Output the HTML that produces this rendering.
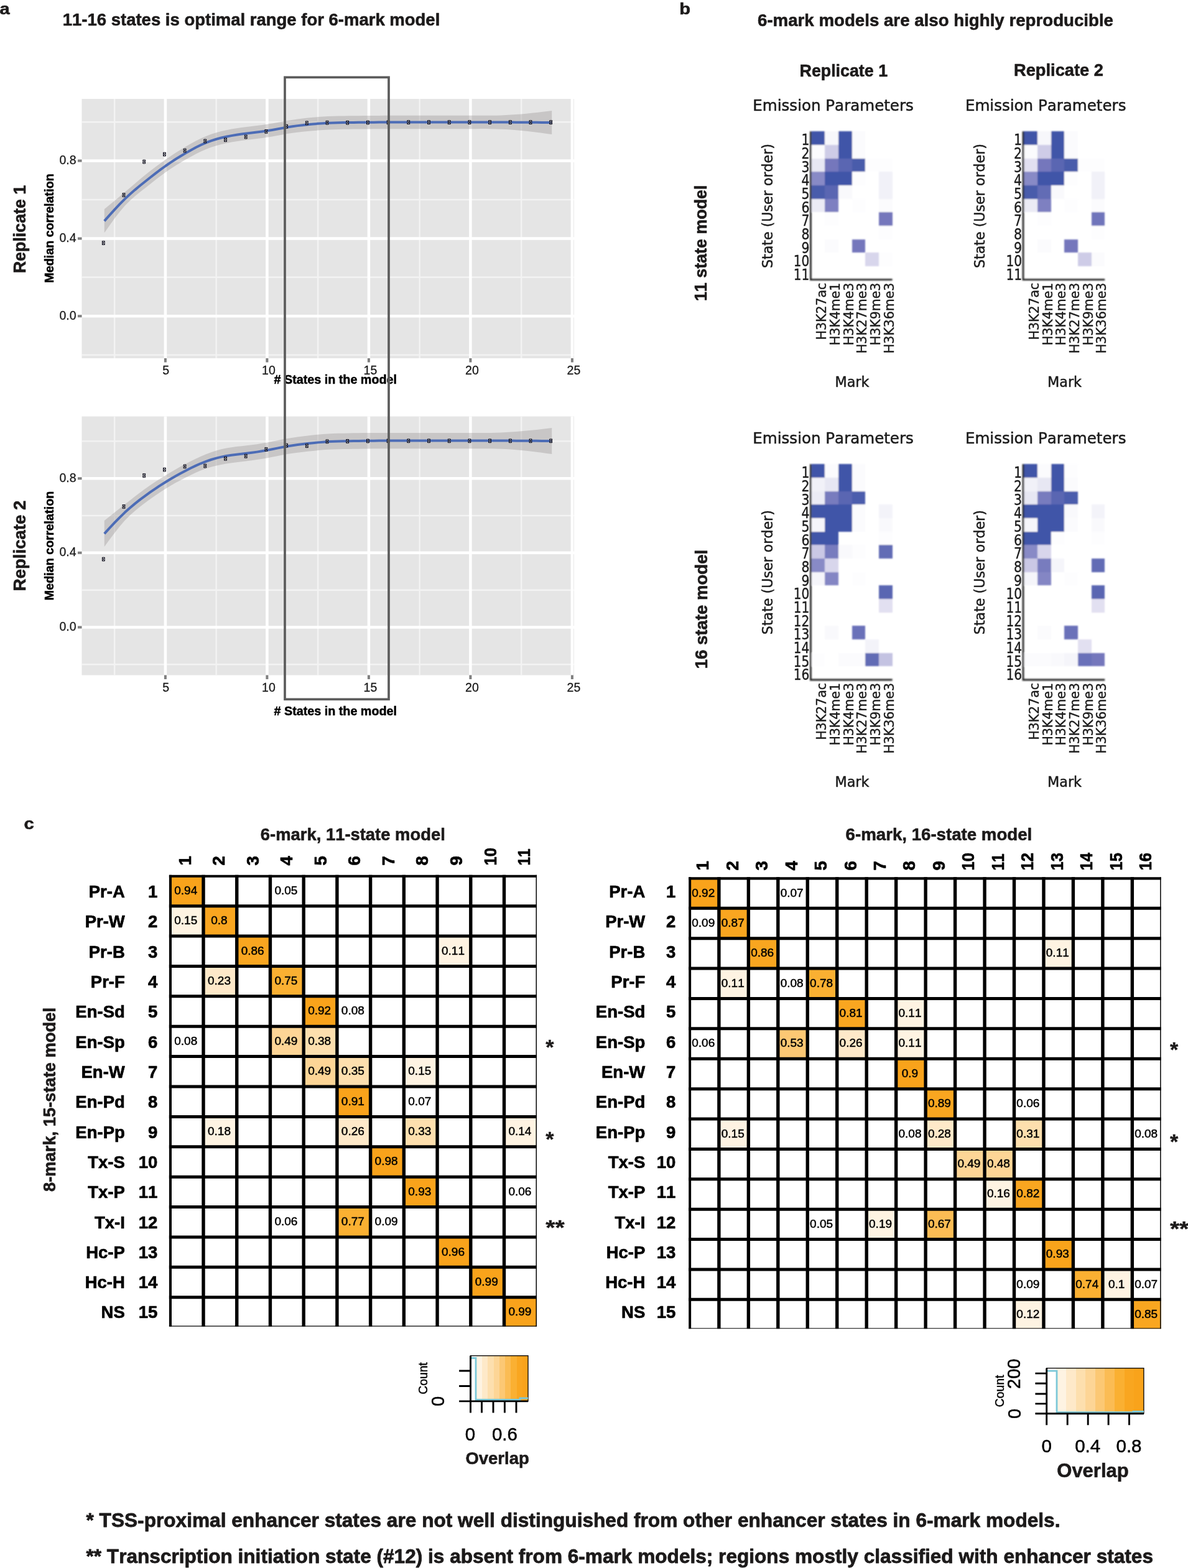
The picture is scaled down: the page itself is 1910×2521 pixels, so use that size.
<!DOCTYPE html>
<html lang="en"><head><meta charset="utf-8"><title>6-mark ChromHMM models</title>
<style>html,body{margin:0;padding:0;background:#fff}body{width:1910px;height:2521px;overflow:hidden}svg{display:block}
text{font-family:"Liberation Sans", Arial, Helvetica, sans-serif;font-kerning:none}.b{font-weight:700}.r{font-weight:400}.d{font-family:"DejaVu Sans", "Liberation Sans", sans-serif;font-weight:400}
</style></head><body>
<svg width="1910" height="2521" viewBox="0 0 1910 2521">
<defs><linearGradient id="og" x1="0" x2="1" y1="0" y2="0"><stop offset="0" stop-color="#ffffff"/><stop offset="0.08" stop-color="#ffffff"/><stop offset="1" stop-color="#f9a31b"/></linearGradient>
<filter id="bl" x="-5%" y="-5%" width="110%" height="110%"><feGaussianBlur stdDeviation="0.8"/></filter></defs>
<rect width="1910" height="2521" fill="#fff"/>
<text class="b" x="-0.5" y="23.3" font-size="26.5" text-anchor="start" fill="#1c1a1a" textLength="16.21" lengthAdjust="spacingAndGlyphs" stroke="#1c1a1a" stroke-width="0.6" stroke-linejoin="round">a</text>
<text class="b" x="1092.3" y="23" font-size="26.5" text-anchor="start" fill="#1c1a1a" textLength="17.81" lengthAdjust="spacingAndGlyphs" stroke="#1c1a1a" stroke-width="0.6" stroke-linejoin="round">b</text>
<text class="b" x="38.5" y="1332.7" font-size="26.5" text-anchor="start" fill="#1c1a1a" textLength="16.21" lengthAdjust="spacingAndGlyphs" stroke="#1c1a1a" stroke-width="0.6" stroke-linejoin="round">c</text>
<text class="b" x="100.8" y="41.2" font-size="27.5" text-anchor="start" fill="#1c1a1a" textLength="606.5" lengthAdjust="spacingAndGlyphs" stroke="#1c1a1a" stroke-width="0.6" stroke-linejoin="round">11-16 states is optimal range for 6-mark model</text>
<text class="b" x="1218" y="41.7" font-size="27.5" text-anchor="start" fill="#1c1a1a" textLength="572" lengthAdjust="spacingAndGlyphs" stroke="#1c1a1a" stroke-width="0.6" stroke-linejoin="round">6-mark models are also highly reproducible</text>
<rect x="131.5" y="159" width="791.5" height="417" fill="#e5e5e5"/>
<path d="M184.15 159V576M347.65 159V576M511.15 159V576M674.65 159V576M838.15 159V576M131.5 570.6H923M131.5 445.8H923M131.5 321H923M131.5 196.2H923" stroke="#f3f3f3" stroke-width="2.4" fill="none"/>
<path d="M265.9 159V576M429.4 159V576M592.9 159V576M756.4 159V576M919.9 159V576M131.5 508.2H923M131.5 383.4H923M131.5 258.6H923" stroke="#ffffff" stroke-width="4.5" fill="none"/>
<path d="M265.9 576V582.5M429.4 576V582.5M592.9 576V582.5M756.4 576V582.5M919.9 576V582.5M125 508.2H131.5M125 383.4H131.5M125 258.6H131.5" stroke="#7f7f7f" stroke-width="4" fill="none"/>
<path d="M167.8 336.3 L175.98 329.55 L184.15 322.78 L192.33 315.97 L200.5 309.1 L208.68 302.16 L216.85 295.22 L225.03 288.34 L233.2 281.6 L241.38 275.06 L249.55 268.74 L257.73 262.65 L265.9 256.8 L274.08 251.18 L282.25 245.8 L290.43 240.64 L298.6 235.7 L306.78 230.98 L314.95 226.55 L323.12 222.49 L331.3 218.9 L339.48 215.83 L347.65 213.24 L355.83 211.05 L364 209.2 L372.18 207.62 L380.35 206.26 L388.52 205.06 L396.7 204 L404.88 203.01 L413.05 202.03 L421.23 200.98 L429.4 199.8 L437.58 198.43 L445.75 196.95 L453.93 195.44 L462.1 194 L470.28 192.7 L478.45 191.54 L486.62 190.51 L494.8 189.6 L502.98 188.8 L511.15 188.11 L519.33 187.55 L527.5 187.1 L535.68 186.78 L543.85 186.56 L552.03 186.41 L560.2 186.3 L568.38 186.21 L576.55 186.13 L584.73 186.07 L592.9 186 L601.08 185.94 L609.25 185.88 L617.43 185.83 L625.6 185.8 L633.77 185.79 L641.95 185.79 L650.12 185.79 L658.3 185.8 L666.48 185.8 L674.65 185.8 L682.83 185.8 L691 185.8 L699.18 185.8 L707.35 185.8 L715.52 185.8 L723.7 185.8 L731.88 185.79 L740.05 185.78 L748.23 185.78 L756.4 185.8 L764.58 185.84 L772.75 185.87 L780.93 185.86 L789.1 185.8 L797.28 185.65 L805.45 185.4 L813.62 185.05 L821.8 184.6 L829.98 184.04 L838.15 183.38 L846.33 182.63 L854.5 181.8 L862.68 180.91 L870.85 179.97 L879.03 178.99 L887.2 178 L887.2 216 L879.03 214.91 L870.85 213.84 L862.68 212.8 L854.5 211.8 L846.33 210.87 L838.15 210.01 L829.98 209.25 L821.8 208.6 L813.62 208.07 L805.45 207.67 L797.28 207.38 L789.1 207.2 L780.93 207.12 L772.75 207.12 L764.58 207.16 L756.4 207.2 L748.23 207.22 L740.05 207.22 L731.88 207.21 L723.7 207.2 L715.52 207.19 L707.35 207.19 L699.18 207.2 L691 207.2 L682.83 207.2 L674.65 207.21 L666.48 207.2 L658.3 207.2 L650.12 207.19 L641.95 207.19 L633.77 207.19 L625.6 207.2 L617.43 207.23 L609.25 207.28 L601.08 207.34 L592.9 207.4 L584.73 207.47 L576.55 207.54 L568.38 207.61 L560.2 207.7 L552.03 207.8 L543.85 207.95 L535.68 208.17 L527.5 208.5 L519.33 208.97 L511.15 209.55 L502.98 210.24 L494.8 211 L486.62 211.82 L478.45 212.74 L470.28 213.78 L462.1 215 L453.93 216.4 L445.75 217.91 L437.58 219.41 L429.4 220.8 L421.23 221.99 L413.05 223.04 L404.88 224.02 L396.7 225 L388.52 226.06 L380.35 227.25 L372.18 228.62 L364 230.2 L355.83 232.05 L347.65 234.24 L339.48 236.83 L331.3 239.9 L323.12 243.48 L314.95 247.51 L306.78 251.88 L298.6 256.5 L290.43 261.29 L282.25 266.29 L274.08 271.57 L265.9 277.2 L257.73 283.21 L249.55 289.51 L241.38 295.95 L233.2 302.4 L225.03 308.81 L216.85 315.48 L208.68 322.79 L200.5 331.1 L192.33 340.68 L184.15 351.31 L175.98 362.63 L167.8 374.3Z" fill="#8f8b8b" fill-opacity="0.34"/>
<path d="M167.8 355.3 L175.98 346.09 L184.15 337.05 L192.33 328.33 L200.5 320.1 L208.68 312.47 L216.85 305.35 L225.03 298.58 L233.2 292 L241.38 285.5 L249.55 279.13 L257.73 272.93 L265.9 267 L274.08 261.38 L282.25 256.05 L290.43 250.97 L298.6 246.1 L306.78 241.43 L314.95 237.03 L323.12 232.99 L331.3 229.4 L339.48 226.33 L347.65 223.74 L355.83 221.55 L364 219.7 L372.18 218.12 L380.35 216.75 L388.52 215.56 L396.7 214.5 L404.88 213.51 L413.05 212.53 L421.23 211.49 L429.4 210.3 L437.58 208.92 L445.75 207.43 L453.93 205.92 L462.1 204.5 L470.28 203.24 L478.45 202.14 L486.62 201.17 L494.8 200.3 L502.98 199.52 L511.15 198.83 L519.33 198.26 L527.5 197.8 L535.68 197.47 L543.85 197.25 L552.03 197.1 L560.2 197 L568.38 196.91 L576.55 196.84 L584.73 196.77 L592.9 196.7 L601.08 196.64 L609.25 196.58 L617.43 196.53 L625.6 196.5 L633.77 196.49 L641.95 196.49 L650.12 196.49 L658.3 196.5 L666.48 196.5 L674.65 196.5 L682.83 196.5 L691 196.5 L699.18 196.5 L707.35 196.5 L715.52 196.5 L723.7 196.5 L731.88 196.5 L740.05 196.5 L748.23 196.5 L756.4 196.5 L764.58 196.5 L772.75 196.49 L780.93 196.49 L789.1 196.5 L797.28 196.51 L805.45 196.53 L813.62 196.56 L821.8 196.6 L829.98 196.64 L838.15 196.69 L846.33 196.75 L854.5 196.8 L862.68 196.85 L870.85 196.9 L879.03 196.95 L887.2 197" stroke="#4c6cb6" stroke-width="4" fill="none" stroke-linejoin="round"/>
<path d="M164.4 387.7h3.8v5.8h-3.8zl3.8 5.8m0 -5.8l-3.8 5.8" stroke="#000010" stroke-width="0.9" fill="#ffffff" fill-opacity="0.55"/>
<path d="M197.1 310.6h3.8v5.8h-3.8zl3.8 5.8m0 -5.8l-3.8 5.8" stroke="#000010" stroke-width="0.9" fill="#ffffff" fill-opacity="0.55"/>
<path d="M229.8 257.1h3.8v5.8h-3.8zl3.8 5.8m0 -5.8l-3.8 5.8" stroke="#000010" stroke-width="0.9" fill="#ffffff" fill-opacity="0.55"/>
<path d="M262.5 245.2h3.8v5.8h-3.8zl3.8 5.8m0 -5.8l-3.8 5.8" stroke="#000010" stroke-width="0.9" fill="#ffffff" fill-opacity="0.55"/>
<path d="M295.2 239.2h3.8v5.8h-3.8zl3.8 5.8m0 -5.8l-3.8 5.8" stroke="#000010" stroke-width="0.9" fill="#ffffff" fill-opacity="0.55"/>
<path d="M327.9 224h3.8v5.8h-3.8zl3.8 5.8m0 -5.8l-3.8 5.8" stroke="#000010" stroke-width="0.9" fill="#ffffff" fill-opacity="0.55"/>
<path d="M360.6 221.9h3.8v5.8h-3.8zl3.8 5.8m0 -5.8l-3.8 5.8" stroke="#000010" stroke-width="0.9" fill="#ffffff" fill-opacity="0.55"/>
<path d="M393.3 217.1h3.8v5.8h-3.8zl3.8 5.8m0 -5.8l-3.8 5.8" stroke="#000010" stroke-width="0.9" fill="#ffffff" fill-opacity="0.55"/>
<path d="M426 208.5h3.8v5.8h-3.8zl3.8 5.8m0 -5.8l-3.8 5.8" stroke="#000010" stroke-width="0.9" fill="#ffffff" fill-opacity="0.55"/>
<path d="M458.7 200.4h3.8v5.8h-3.8zl3.8 5.8m0 -5.8l-3.8 5.8" stroke="#000010" stroke-width="0.9" fill="#ffffff" fill-opacity="0.55"/>
<path d="M491.4 194.9h3.8v5.8h-3.8zl3.8 5.8m0 -5.8l-3.8 5.8" stroke="#000010" stroke-width="0.9" fill="#ffffff" fill-opacity="0.55"/>
<path d="M524.1 194.3h3.8v5.8h-3.8zl3.8 5.8m0 -5.8l-3.8 5.8" stroke="#000010" stroke-width="0.9" fill="#ffffff" fill-opacity="0.55"/>
<path d="M556.8 194.3h3.8v5.8h-3.8zl3.8 5.8m0 -5.8l-3.8 5.8" stroke="#000010" stroke-width="0.9" fill="#ffffff" fill-opacity="0.55"/>
<path d="M589.5 194.1h3.8v5.8h-3.8zl3.8 5.8m0 -5.8l-3.8 5.8" stroke="#000010" stroke-width="0.9" fill="#ffffff" fill-opacity="0.55"/>
<path d="M622.2 193.9h3.8v5.8h-3.8zl3.8 5.8m0 -5.8l-3.8 5.8" stroke="#000010" stroke-width="0.9" fill="#ffffff" fill-opacity="0.55"/>
<path d="M654.9 193.7h3.8v5.8h-3.8zl3.8 5.8m0 -5.8l-3.8 5.8" stroke="#000010" stroke-width="0.9" fill="#ffffff" fill-opacity="0.55"/>
<path d="M687.6 193.7h3.8v5.8h-3.8zl3.8 5.8m0 -5.8l-3.8 5.8" stroke="#000010" stroke-width="0.9" fill="#ffffff" fill-opacity="0.55"/>
<path d="M720.3 193.7h3.8v5.8h-3.8zl3.8 5.8m0 -5.8l-3.8 5.8" stroke="#000010" stroke-width="0.9" fill="#ffffff" fill-opacity="0.55"/>
<path d="M753 193.7h3.8v5.8h-3.8zl3.8 5.8m0 -5.8l-3.8 5.8" stroke="#000010" stroke-width="0.9" fill="#ffffff" fill-opacity="0.55"/>
<path d="M785.7 193.7h3.8v5.8h-3.8zl3.8 5.8m0 -5.8l-3.8 5.8" stroke="#000010" stroke-width="0.9" fill="#ffffff" fill-opacity="0.55"/>
<path d="M818.4 193.7h3.8v5.8h-3.8zl3.8 5.8m0 -5.8l-3.8 5.8" stroke="#000010" stroke-width="0.9" fill="#ffffff" fill-opacity="0.55"/>
<path d="M851.1 193.7h3.8v5.8h-3.8zl3.8 5.8m0 -5.8l-3.8 5.8" stroke="#000010" stroke-width="0.9" fill="#ffffff" fill-opacity="0.55"/>
<path d="M883.8 193.7h3.8v5.8h-3.8zl3.8 5.8m0 -5.8l-3.8 5.8" stroke="#000010" stroke-width="0.9" fill="#ffffff" fill-opacity="0.55"/>
<text class="r" x="266.7" y="601.8" font-size="19.5" text-anchor="middle" fill="#1a1a1a" stroke="#1a1a1a" stroke-width="0.3" stroke-linejoin="round">5</text>
<text class="r" x="431.9" y="601.8" font-size="19.5" text-anchor="middle" fill="#1a1a1a" stroke="#1a1a1a" stroke-width="0.3" stroke-linejoin="round">10</text>
<text class="r" x="595.4" y="601.8" font-size="19.5" text-anchor="middle" fill="#1a1a1a" stroke="#1a1a1a" stroke-width="0.3" stroke-linejoin="round">15</text>
<text class="r" x="758.9" y="601.8" font-size="19.5" text-anchor="middle" fill="#1a1a1a" stroke="#1a1a1a" stroke-width="0.3" stroke-linejoin="round">20</text>
<text class="r" x="922.4" y="601.8" font-size="19.5" text-anchor="middle" fill="#1a1a1a" stroke="#1a1a1a" stroke-width="0.3" stroke-linejoin="round">25</text>
<text class="r" x="122.6" y="513.5" font-size="19.5" text-anchor="end" fill="#1a1a1a" stroke="#1a1a1a" stroke-width="0.3" stroke-linejoin="round">0.0</text>
<text class="r" x="122.6" y="388.7" font-size="19.5" text-anchor="end" fill="#1a1a1a" stroke="#1a1a1a" stroke-width="0.3" stroke-linejoin="round">0.4</text>
<text class="r" x="122.6" y="263.9" font-size="19.5" text-anchor="end" fill="#1a1a1a" stroke="#1a1a1a" stroke-width="0.3" stroke-linejoin="round">0.8</text>
<text class="b" x="440.5" y="616.8" font-size="19.75" text-anchor="start" fill="#000" textLength="197.5" lengthAdjust="spacingAndGlyphs" stroke="#000" stroke-width="0.5" stroke-linejoin="round"># States in the model</text>
<text class="b" x="86.3" y="367" font-size="19.75" text-anchor="middle" fill="#000" transform="rotate(-90 86.3 367)" textLength="175.5" lengthAdjust="spacingAndGlyphs" stroke="#000" stroke-width="0.5" stroke-linejoin="round">Median correlation</text>
<text class="b" x="40.8" y="368.5" font-size="27.5" text-anchor="middle" fill="#1c1a1a" transform="rotate(-90 40.8 368.5)" textLength="141.5" lengthAdjust="spacingAndGlyphs" stroke="#1c1a1a" stroke-width="0.6" stroke-linejoin="round">Replicate 1</text>
<rect x="131.5" y="669.5" width="791.5" height="416" fill="#e5e5e5"/>
<path d="M184.15 669.5V1085.5M347.65 669.5V1085.5M511.15 669.5V1085.5M674.65 669.5V1085.5M838.15 669.5V1085.5M131.5 1068.32H923M131.5 948.68H923M131.5 829.04H923M131.5 709.4H923" stroke="#f3f3f3" stroke-width="2.4" fill="none"/>
<path d="M265.9 669.5V1085.5M429.4 669.5V1085.5M592.9 669.5V1085.5M756.4 669.5V1085.5M919.9 669.5V1085.5M131.5 1008.5H923M131.5 888.86H923M131.5 769.22H923" stroke="#ffffff" stroke-width="4.5" fill="none"/>
<path d="M265.9 1085.5V1092M429.4 1085.5V1092M592.9 1085.5V1092M756.4 1085.5V1092M919.9 1085.5V1092M125 1008.5H131.5M125 888.86H131.5M125 769.22H131.5" stroke="#7f7f7f" stroke-width="4" fill="none"/>
<path d="M167.8 837.1 L175.98 830.59 L184.15 824.09 L192.33 817.59 L200.5 811.1 L208.68 804.63 L216.85 798.25 L225.03 792.02 L233.2 786 L241.38 780.25 L249.55 774.76 L257.73 769.49 L265.9 764.4 L274.08 759.48 L282.25 754.71 L290.43 750.12 L298.6 745.7 L306.78 741.47 L314.95 737.46 L323.12 733.72 L331.3 730.3 L339.48 727.24 L347.65 724.57 L355.83 722.31 L364 720.5 L372.18 719.13 L380.35 718.07 L388.52 717.18 L396.7 716.3 L404.88 715.3 L413.05 714.15 L421.23 712.85 L429.4 711.4 L437.58 709.81 L445.75 708.16 L453.93 706.53 L462.1 705 L470.28 703.65 L478.45 702.45 L486.62 701.38 L494.8 700.4 L502.98 699.48 L511.15 698.66 L519.33 697.95 L527.5 697.4 L535.68 697.02 L543.85 696.78 L552.03 696.63 L560.2 696.5 L568.38 696.37 L576.55 696.23 L584.73 696.1 L592.9 696 L601.08 695.94 L609.25 695.91 L617.43 695.9 L625.6 695.9 L633.77 695.9 L641.95 695.9 L650.12 695.9 L658.3 695.9 L666.48 695.9 L674.65 695.9 L682.83 695.9 L691 695.9 L699.18 695.9 L707.35 695.91 L715.52 695.91 L723.7 695.9 L731.88 695.89 L740.05 695.88 L748.23 695.88 L756.4 695.9 L764.58 695.94 L772.75 695.98 L780.93 695.97 L789.1 695.9 L797.28 695.73 L805.45 695.45 L813.62 695.08 L821.8 694.6 L829.98 694.03 L838.15 693.37 L846.33 692.62 L854.5 691.8 L862.68 690.91 L870.85 689.97 L879.03 688.99 L887.2 688 L887.2 730 L879.03 728.91 L870.85 727.84 L862.68 726.8 L854.5 725.8 L846.33 724.86 L838.15 724 L829.98 723.24 L821.8 722.6 L813.62 722.09 L805.45 721.72 L797.28 721.46 L789.1 721.3 L780.93 721.23 L772.75 721.23 L764.58 721.26 L756.4 721.3 L748.23 721.32 L740.05 721.32 L731.88 721.31 L723.7 721.3 L715.52 721.3 L707.35 721.3 L699.18 721.3 L691 721.3 L682.83 721.3 L674.65 721.3 L666.48 721.3 L658.3 721.3 L650.12 721.3 L641.95 721.3 L633.77 721.3 L625.6 721.3 L617.43 721.3 L609.25 721.31 L601.08 721.34 L592.9 721.4 L584.73 721.5 L576.55 721.63 L568.38 721.77 L560.2 721.9 L552.03 722.02 L543.85 722.17 L535.68 722.41 L527.5 722.8 L519.33 723.37 L511.15 724.1 L502.98 724.92 L494.8 725.8 L486.62 726.69 L478.45 727.65 L470.28 728.73 L462.1 730 L453.93 731.49 L445.75 733.13 L437.58 734.8 L429.4 736.4 L421.23 737.83 L413.05 739.11 L404.88 740.26 L396.7 741.3 L388.52 742.28 L380.35 743.25 L372.18 744.3 L364 745.5 L355.83 746.93 L347.65 748.65 L339.48 750.75 L331.3 753.3 L323.12 756.35 L314.95 759.82 L306.78 763.64 L298.6 767.7 L290.43 771.94 L282.25 776.37 L274.08 781.05 L265.9 786 L257.73 791.26 L249.55 796.81 L241.38 802.6 L233.2 808.6 L225.03 814.81 L216.85 821.46 L208.68 828.8 L200.5 837.1 L192.33 846.53 L184.15 856.88 L175.98 867.83 L167.8 879.1Z" fill="#8f8b8b" fill-opacity="0.34"/>
<path d="M167.8 858.1 L175.98 849.21 L184.15 840.48 L192.33 832.06 L200.5 824.1 L208.68 816.72 L216.85 809.86 L225.03 803.42 L233.2 797.3 L241.38 791.43 L249.55 785.78 L257.73 780.37 L265.9 775.2 L274.08 770.26 L282.25 765.54 L290.43 761.03 L298.6 756.7 L306.78 752.55 L314.95 748.64 L323.12 745.03 L331.3 741.8 L339.48 738.99 L347.65 736.61 L355.83 734.62 L364 733 L372.18 731.71 L380.35 730.66 L388.52 729.73 L396.7 728.8 L404.88 727.78 L413.05 726.63 L421.23 725.34 L429.4 723.9 L437.58 722.31 L445.75 720.65 L453.93 719.01 L462.1 717.5 L470.28 716.19 L478.45 715.05 L486.62 714.04 L494.8 713.1 L502.98 712.2 L511.15 711.38 L519.33 710.66 L527.5 710.1 L535.68 709.72 L543.85 709.48 L552.03 709.32 L560.2 709.2 L568.38 709.07 L576.55 708.93 L584.73 708.8 L592.9 708.7 L601.08 708.64 L609.25 708.61 L617.43 708.6 L625.6 708.6 L633.77 708.6 L641.95 708.6 L650.12 708.6 L658.3 708.6 L666.48 708.6 L674.65 708.6 L682.83 708.6 L691 708.6 L699.18 708.6 L707.35 708.6 L715.52 708.6 L723.7 708.6 L731.88 708.6 L740.05 708.6 L748.23 708.6 L756.4 708.6 L764.58 708.6 L772.75 708.6 L780.93 708.6 L789.1 708.6 L797.28 708.59 L805.45 708.58 L813.62 708.58 L821.8 708.6 L829.98 708.63 L838.15 708.68 L846.33 708.74 L854.5 708.8 L862.68 708.85 L870.85 708.91 L879.03 708.95 L887.2 709" stroke="#4c6cb6" stroke-width="4" fill="none" stroke-linejoin="round"/>
<path d="M164.4 896.2h3.8v5.8h-3.8zl3.8 5.8m0 -5.8l-3.8 5.8" stroke="#000010" stroke-width="0.9" fill="#ffffff" fill-opacity="0.55"/>
<path d="M197.1 811.5h3.8v5.8h-3.8zl3.8 5.8m0 -5.8l-3.8 5.8" stroke="#000010" stroke-width="0.9" fill="#ffffff" fill-opacity="0.55"/>
<path d="M229.8 761.6h3.8v5.8h-3.8zl3.8 5.8m0 -5.8l-3.8 5.8" stroke="#000010" stroke-width="0.9" fill="#ffffff" fill-opacity="0.55"/>
<path d="M262.5 752.2h3.8v5.8h-3.8zl3.8 5.8m0 -5.8l-3.8 5.8" stroke="#000010" stroke-width="0.9" fill="#ffffff" fill-opacity="0.55"/>
<path d="M295.2 747h3.8v5.8h-3.8zl3.8 5.8m0 -5.8l-3.8 5.8" stroke="#000010" stroke-width="0.9" fill="#ffffff" fill-opacity="0.55"/>
<path d="M327.9 746.2h3.8v5.8h-3.8zl3.8 5.8m0 -5.8l-3.8 5.8" stroke="#000010" stroke-width="0.9" fill="#ffffff" fill-opacity="0.55"/>
<path d="M360.6 734.4h3.8v5.8h-3.8zl3.8 5.8m0 -5.8l-3.8 5.8" stroke="#000010" stroke-width="0.9" fill="#ffffff" fill-opacity="0.55"/>
<path d="M393.3 730.4h3.8v5.8h-3.8zl3.8 5.8m0 -5.8l-3.8 5.8" stroke="#000010" stroke-width="0.9" fill="#ffffff" fill-opacity="0.55"/>
<path d="M426 719.6h3.8v5.8h-3.8zl3.8 5.8m0 -5.8l-3.8 5.8" stroke="#000010" stroke-width="0.9" fill="#ffffff" fill-opacity="0.55"/>
<path d="M458.7 713.3h3.8v5.8h-3.8zl3.8 5.8m0 -5.8l-3.8 5.8" stroke="#000010" stroke-width="0.9" fill="#ffffff" fill-opacity="0.55"/>
<path d="M491.4 713.8h3.8v5.8h-3.8zl3.8 5.8m0 -5.8l-3.8 5.8" stroke="#000010" stroke-width="0.9" fill="#ffffff" fill-opacity="0.55"/>
<path d="M524.1 706.9h3.8v5.8h-3.8zl3.8 5.8m0 -5.8l-3.8 5.8" stroke="#000010" stroke-width="0.9" fill="#ffffff" fill-opacity="0.55"/>
<path d="M556.8 706.5h3.8v5.8h-3.8zl3.8 5.8m0 -5.8l-3.8 5.8" stroke="#000010" stroke-width="0.9" fill="#ffffff" fill-opacity="0.55"/>
<path d="M589.5 706.1h3.8v5.8h-3.8zl3.8 5.8m0 -5.8l-3.8 5.8" stroke="#000010" stroke-width="0.9" fill="#ffffff" fill-opacity="0.55"/>
<path d="M622.2 705.9h3.8v5.8h-3.8zl3.8 5.8m0 -5.8l-3.8 5.8" stroke="#000010" stroke-width="0.9" fill="#ffffff" fill-opacity="0.55"/>
<path d="M654.9 705.9h3.8v5.8h-3.8zl3.8 5.8m0 -5.8l-3.8 5.8" stroke="#000010" stroke-width="0.9" fill="#ffffff" fill-opacity="0.55"/>
<path d="M687.6 705.9h3.8v5.8h-3.8zl3.8 5.8m0 -5.8l-3.8 5.8" stroke="#000010" stroke-width="0.9" fill="#ffffff" fill-opacity="0.55"/>
<path d="M720.3 705.9h3.8v5.8h-3.8zl3.8 5.8m0 -5.8l-3.8 5.8" stroke="#000010" stroke-width="0.9" fill="#ffffff" fill-opacity="0.55"/>
<path d="M753 705.9h3.8v5.8h-3.8zl3.8 5.8m0 -5.8l-3.8 5.8" stroke="#000010" stroke-width="0.9" fill="#ffffff" fill-opacity="0.55"/>
<path d="M785.7 705.9h3.8v5.8h-3.8zl3.8 5.8m0 -5.8l-3.8 5.8" stroke="#000010" stroke-width="0.9" fill="#ffffff" fill-opacity="0.55"/>
<path d="M818.4 705.9h3.8v5.8h-3.8zl3.8 5.8m0 -5.8l-3.8 5.8" stroke="#000010" stroke-width="0.9" fill="#ffffff" fill-opacity="0.55"/>
<path d="M851.1 705.9h3.8v5.8h-3.8zl3.8 5.8m0 -5.8l-3.8 5.8" stroke="#000010" stroke-width="0.9" fill="#ffffff" fill-opacity="0.55"/>
<path d="M883.8 705.9h3.8v5.8h-3.8zl3.8 5.8m0 -5.8l-3.8 5.8" stroke="#000010" stroke-width="0.9" fill="#ffffff" fill-opacity="0.55"/>
<text class="r" x="266.7" y="1112" font-size="19.5" text-anchor="middle" fill="#1a1a1a" stroke="#1a1a1a" stroke-width="0.3" stroke-linejoin="round">5</text>
<text class="r" x="431.9" y="1112" font-size="19.5" text-anchor="middle" fill="#1a1a1a" stroke="#1a1a1a" stroke-width="0.3" stroke-linejoin="round">10</text>
<text class="r" x="595.4" y="1112" font-size="19.5" text-anchor="middle" fill="#1a1a1a" stroke="#1a1a1a" stroke-width="0.3" stroke-linejoin="round">15</text>
<text class="r" x="758.9" y="1112" font-size="19.5" text-anchor="middle" fill="#1a1a1a" stroke="#1a1a1a" stroke-width="0.3" stroke-linejoin="round">20</text>
<text class="r" x="922.4" y="1112" font-size="19.5" text-anchor="middle" fill="#1a1a1a" stroke="#1a1a1a" stroke-width="0.3" stroke-linejoin="round">25</text>
<text class="r" x="122.6" y="1013.8" font-size="19.5" text-anchor="end" fill="#1a1a1a" stroke="#1a1a1a" stroke-width="0.3" stroke-linejoin="round">0.0</text>
<text class="r" x="122.6" y="894.16" font-size="19.5" text-anchor="end" fill="#1a1a1a" stroke="#1a1a1a" stroke-width="0.3" stroke-linejoin="round">0.4</text>
<text class="r" x="122.6" y="774.52" font-size="19.5" text-anchor="end" fill="#1a1a1a" stroke="#1a1a1a" stroke-width="0.3" stroke-linejoin="round">0.8</text>
<text class="b" x="440.5" y="1150" font-size="19.75" text-anchor="start" fill="#000" textLength="197.5" lengthAdjust="spacingAndGlyphs" stroke="#000" stroke-width="0.5" stroke-linejoin="round"># States in the model</text>
<text class="b" x="86.3" y="877.5" font-size="19.75" text-anchor="middle" fill="#000" transform="rotate(-90 86.3 877.5)" textLength="175.5" lengthAdjust="spacingAndGlyphs" stroke="#000" stroke-width="0.5" stroke-linejoin="round">Median correlation</text>
<text class="b" x="40.8" y="877.5" font-size="27.5" text-anchor="middle" fill="#1c1a1a" transform="rotate(-90 40.8 877.5)" textLength="145.5" lengthAdjust="spacingAndGlyphs" stroke="#1c1a1a" stroke-width="0.6" stroke-linejoin="round">Replicate 2</text>
<rect x="458" y="124.3" width="167" height="1000" fill="none" stroke="#5c5c5c" stroke-width="3.7"/>
<text class="b" x="1356.3" y="122.6" font-size="27.5" text-anchor="middle" fill="#1c1a1a" textLength="141.5" lengthAdjust="spacingAndGlyphs" stroke="#1c1a1a" stroke-width="0.6" stroke-linejoin="round">Replicate 1</text>
<text class="b" x="1702" y="122.4" font-size="27.5" text-anchor="middle" fill="#1c1a1a" textLength="144" lengthAdjust="spacingAndGlyphs" stroke="#1c1a1a" stroke-width="0.6" stroke-linejoin="round">Replicate 2</text>
<text class="b" x="1136.4" y="390.8" font-size="27.5" text-anchor="middle" fill="#1c1a1a" transform="rotate(-90 1136.4 390.8)" textLength="186.6" lengthAdjust="spacingAndGlyphs" stroke="#1c1a1a" stroke-width="0.6" stroke-linejoin="round">11 state model</text>
<text class="b" x="1136.7" y="979.6" font-size="27.5" text-anchor="middle" fill="#1c1a1a" transform="rotate(-90 1136.7 979.6)" textLength="191.5" lengthAdjust="spacingAndGlyphs" stroke="#1c1a1a" stroke-width="0.6" stroke-linejoin="round">16 state model</text>
<g filter="url(#bl)">
<g shape-rendering="crispEdges">
<rect x="1305" y="211" width="21" height="22" fill="#3f55a8"/>
<rect x="1326" y="211" width="22" height="22" fill="#f7f7fb"/>
<rect x="1348" y="211" width="22" height="22" fill="#3f55a8"/>
<rect x="1370" y="211" width="21" height="22" fill="#fbfbfd"/>
<rect x="1305" y="233" width="21" height="22" fill="#fbfbfd"/>
<rect x="1326" y="233" width="22" height="22" fill="#cecce7"/>
<rect x="1348" y="233" width="22" height="22" fill="#3f55a8"/>
<rect x="1370" y="233" width="21" height="22" fill="#fbfbfd"/>
<rect x="1305" y="255" width="21" height="21" fill="#e7e7f3"/>
<rect x="1326" y="255" width="22" height="21" fill="#7477bc"/>
<rect x="1348" y="255" width="22" height="21" fill="#5a66b2"/>
<rect x="1370" y="255" width="21" height="21" fill="#485bab"/>
<rect x="1391" y="255" width="22" height="21" fill="#fdfdfe"/>
<rect x="1413" y="255" width="22" height="21" fill="#fdfdfe"/>
<rect x="1305" y="276" width="21" height="22" fill="#888ac6"/>
<rect x="1326" y="276" width="22" height="22" fill="#3f55a8"/>
<rect x="1348" y="276" width="22" height="22" fill="#3f55a8"/>
<rect x="1370" y="276" width="21" height="22" fill="#fdfdfe"/>
<rect x="1413" y="276" width="22" height="22" fill="#f1f1f8"/>
<rect x="1305" y="298" width="21" height="22" fill="#485bab"/>
<rect x="1326" y="298" width="22" height="22" fill="#5a66b2"/>
<rect x="1348" y="298" width="22" height="22" fill="#f9f9fc"/>
<rect x="1413" y="298" width="22" height="22" fill="#f1f1f8"/>
<rect x="1305" y="320" width="21" height="21" fill="#ebebf5"/>
<rect x="1326" y="320" width="22" height="21" fill="#7e80c1"/>
<rect x="1370" y="320" width="21" height="21" fill="#fdfdfe"/>
<rect x="1413" y="320" width="22" height="21" fill="#fbfbfd"/>
<rect x="1326" y="341" width="22" height="22" fill="#fdfdfe"/>
<rect x="1413" y="341" width="22" height="22" fill="#7477bc"/>
<rect x="1413" y="363" width="22" height="22" fill="#fdfdfe"/>
<rect x="1326" y="385" width="22" height="21" fill="#fbfbfd"/>
<rect x="1370" y="385" width="21" height="21" fill="#7477bc"/>
<rect x="1391" y="406" width="22" height="22" fill="#d8d6ec"/>
<rect x="1413" y="406" width="22" height="22" fill="#fdfdfe"/>
</g>
<path d="M1303.4 211.3V449.67H1434.62" stroke="#262626" stroke-width="2.8" fill="none"/>
</g>
<text class="d" x="1301.4" y="233.37" font-size="24" text-anchor="end" fill="#1c1c1c" textLength="13" lengthAdjust="spacingAndGlyphs" stroke="#1c1c1c" stroke-width="0.4" stroke-linejoin="round">1</text>
<text class="d" x="1301.4" y="255.04" font-size="24" text-anchor="end" fill="#1c1c1c" textLength="13" lengthAdjust="spacingAndGlyphs" stroke="#1c1c1c" stroke-width="0.4" stroke-linejoin="round">2</text>
<text class="d" x="1301.4" y="276.71" font-size="24" text-anchor="end" fill="#1c1c1c" textLength="13" lengthAdjust="spacingAndGlyphs" stroke="#1c1c1c" stroke-width="0.4" stroke-linejoin="round">3</text>
<text class="d" x="1301.4" y="298.38" font-size="24" text-anchor="end" fill="#1c1c1c" textLength="13" lengthAdjust="spacingAndGlyphs" stroke="#1c1c1c" stroke-width="0.4" stroke-linejoin="round">4</text>
<text class="d" x="1301.4" y="320.05" font-size="24" text-anchor="end" fill="#1c1c1c" textLength="13" lengthAdjust="spacingAndGlyphs" stroke="#1c1c1c" stroke-width="0.4" stroke-linejoin="round">5</text>
<text class="d" x="1301.4" y="341.72" font-size="24" text-anchor="end" fill="#1c1c1c" textLength="13" lengthAdjust="spacingAndGlyphs" stroke="#1c1c1c" stroke-width="0.4" stroke-linejoin="round">6</text>
<text class="d" x="1301.4" y="363.39" font-size="24" text-anchor="end" fill="#1c1c1c" textLength="13" lengthAdjust="spacingAndGlyphs" stroke="#1c1c1c" stroke-width="0.4" stroke-linejoin="round">7</text>
<text class="d" x="1301.4" y="385.06" font-size="24" text-anchor="end" fill="#1c1c1c" textLength="13" lengthAdjust="spacingAndGlyphs" stroke="#1c1c1c" stroke-width="0.4" stroke-linejoin="round">8</text>
<text class="d" x="1301.4" y="406.73" font-size="24" text-anchor="end" fill="#1c1c1c" textLength="13" lengthAdjust="spacingAndGlyphs" stroke="#1c1c1c" stroke-width="0.4" stroke-linejoin="round">9</text>
<text class="d" x="1301.4" y="428.4" font-size="24" text-anchor="end" fill="#1c1c1c" textLength="25.6" lengthAdjust="spacingAndGlyphs" stroke="#1c1c1c" stroke-width="0.4" stroke-linejoin="round">10</text>
<text class="d" x="1301.4" y="450.07" font-size="24" text-anchor="end" fill="#1c1c1c" textLength="25.6" lengthAdjust="spacingAndGlyphs" stroke="#1c1c1c" stroke-width="0.4" stroke-linejoin="round">11</text>
<text class="d" x="1328.47" y="454.67" font-size="21.5" text-anchor="end" fill="#1c1c1c" transform="rotate(-90 1328.47 454.67)" textLength="91.82" lengthAdjust="spacingAndGlyphs" stroke="#1c1c1c" stroke-width="0.45" stroke-linejoin="round">H3K27ac</text>
<text class="d" x="1350.14" y="454.67" font-size="21.5" text-anchor="end" fill="#1c1c1c" transform="rotate(-90 1350.14 454.67)" textLength="100.57" lengthAdjust="spacingAndGlyphs" stroke="#1c1c1c" stroke-width="0.45" stroke-linejoin="round">H3K4me1</text>
<text class="d" x="1371.81" y="454.67" font-size="21.5" text-anchor="end" fill="#1c1c1c" transform="rotate(-90 1371.81 454.67)" textLength="100.57" lengthAdjust="spacingAndGlyphs" stroke="#1c1c1c" stroke-width="0.45" stroke-linejoin="round">H3K4me3</text>
<text class="d" x="1393.48" y="454.67" font-size="21.5" text-anchor="end" fill="#1c1c1c" transform="rotate(-90 1393.48 454.67)" textLength="113.61" lengthAdjust="spacingAndGlyphs" stroke="#1c1c1c" stroke-width="0.45" stroke-linejoin="round">H3K27me3</text>
<text class="d" x="1415.15" y="454.67" font-size="21.5" text-anchor="end" fill="#1c1c1c" transform="rotate(-90 1415.15 454.67)" textLength="100.57" lengthAdjust="spacingAndGlyphs" stroke="#1c1c1c" stroke-width="0.45" stroke-linejoin="round">H3K9me3</text>
<text class="d" x="1436.82" y="454.67" font-size="21.5" text-anchor="end" fill="#1c1c1c" transform="rotate(-90 1436.82 454.67)" textLength="113.61" lengthAdjust="spacingAndGlyphs" stroke="#1c1c1c" stroke-width="0.45" stroke-linejoin="round">H3K36me3</text>
<text class="d" x="1339.6" y="178" font-size="25" text-anchor="middle" fill="#1c1c1c" textLength="258.5" lengthAdjust="spacingAndGlyphs" stroke="#1c1c1c" stroke-width="0.55" stroke-linejoin="round">Emission Parameters</text>
<text class="d" x="1369.9" y="622" font-size="22.5" text-anchor="middle" fill="#1c1c1c" textLength="55" lengthAdjust="spacingAndGlyphs" stroke="#1c1c1c" stroke-width="0.5" stroke-linejoin="round">Mark</text>
<text class="d" x="1241.9" y="330.99" font-size="22.5" text-anchor="middle" fill="#1c1c1c" transform="rotate(-90 1241.9 330.99)" textLength="200" lengthAdjust="spacingAndGlyphs" stroke="#1c1c1c" stroke-width="0.5" stroke-linejoin="round">State (User order)</text>
<g filter="url(#bl)">
<g shape-rendering="crispEdges">
<rect x="1646" y="211" width="22" height="22" fill="#3f55a8"/>
<rect x="1668" y="211" width="22" height="22" fill="#f7f7fb"/>
<rect x="1690" y="211" width="21" height="22" fill="#3f55a8"/>
<rect x="1711" y="211" width="22" height="22" fill="#fbfbfd"/>
<rect x="1646" y="233" width="22" height="22" fill="#fbfbfd"/>
<rect x="1668" y="233" width="22" height="22" fill="#cecce7"/>
<rect x="1690" y="233" width="21" height="22" fill="#3f55a8"/>
<rect x="1711" y="233" width="22" height="22" fill="#fbfbfd"/>
<rect x="1646" y="255" width="22" height="21" fill="#e2e0f1"/>
<rect x="1668" y="255" width="22" height="21" fill="#7477bc"/>
<rect x="1690" y="255" width="21" height="21" fill="#5a66b2"/>
<rect x="1711" y="255" width="22" height="21" fill="#485bab"/>
<rect x="1733" y="255" width="22" height="21" fill="#fdfdfe"/>
<rect x="1755" y="255" width="21" height="21" fill="#fdfdfe"/>
<rect x="1646" y="276" width="22" height="22" fill="#888ac6"/>
<rect x="1668" y="276" width="22" height="22" fill="#3f55a8"/>
<rect x="1690" y="276" width="21" height="22" fill="#3f55a8"/>
<rect x="1711" y="276" width="22" height="22" fill="#fdfdfe"/>
<rect x="1755" y="276" width="21" height="22" fill="#f1f1f8"/>
<rect x="1646" y="298" width="22" height="22" fill="#485bab"/>
<rect x="1668" y="298" width="22" height="22" fill="#626cb5"/>
<rect x="1690" y="298" width="21" height="22" fill="#f9f9fc"/>
<rect x="1755" y="298" width="21" height="22" fill="#f1f1f8"/>
<rect x="1646" y="320" width="22" height="21" fill="#ebebf5"/>
<rect x="1668" y="320" width="22" height="21" fill="#7e80c1"/>
<rect x="1711" y="320" width="22" height="21" fill="#fdfdfe"/>
<rect x="1755" y="320" width="21" height="21" fill="#fbfbfd"/>
<rect x="1668" y="341" width="22" height="22" fill="#fdfdfe"/>
<rect x="1755" y="341" width="21" height="22" fill="#7075bb"/>
<rect x="1755" y="363" width="21" height="22" fill="#fdfdfe"/>
<rect x="1668" y="385" width="22" height="21" fill="#fbfbfd"/>
<rect x="1711" y="385" width="22" height="21" fill="#7477bc"/>
<rect x="1733" y="406" width="22" height="22" fill="#cecce7"/>
<rect x="1755" y="406" width="21" height="22" fill="#fbfbfd"/>
</g>
<path d="M1645 211.3V449.67H1776.22" stroke="#262626" stroke-width="2.8" fill="none"/>
</g>
<text class="d" x="1643" y="233.37" font-size="24" text-anchor="end" fill="#1c1c1c" textLength="13" lengthAdjust="spacingAndGlyphs" stroke="#1c1c1c" stroke-width="0.4" stroke-linejoin="round">1</text>
<text class="d" x="1643" y="255.04" font-size="24" text-anchor="end" fill="#1c1c1c" textLength="13" lengthAdjust="spacingAndGlyphs" stroke="#1c1c1c" stroke-width="0.4" stroke-linejoin="round">2</text>
<text class="d" x="1643" y="276.71" font-size="24" text-anchor="end" fill="#1c1c1c" textLength="13" lengthAdjust="spacingAndGlyphs" stroke="#1c1c1c" stroke-width="0.4" stroke-linejoin="round">3</text>
<text class="d" x="1643" y="298.38" font-size="24" text-anchor="end" fill="#1c1c1c" textLength="13" lengthAdjust="spacingAndGlyphs" stroke="#1c1c1c" stroke-width="0.4" stroke-linejoin="round">4</text>
<text class="d" x="1643" y="320.05" font-size="24" text-anchor="end" fill="#1c1c1c" textLength="13" lengthAdjust="spacingAndGlyphs" stroke="#1c1c1c" stroke-width="0.4" stroke-linejoin="round">5</text>
<text class="d" x="1643" y="341.72" font-size="24" text-anchor="end" fill="#1c1c1c" textLength="13" lengthAdjust="spacingAndGlyphs" stroke="#1c1c1c" stroke-width="0.4" stroke-linejoin="round">6</text>
<text class="d" x="1643" y="363.39" font-size="24" text-anchor="end" fill="#1c1c1c" textLength="13" lengthAdjust="spacingAndGlyphs" stroke="#1c1c1c" stroke-width="0.4" stroke-linejoin="round">7</text>
<text class="d" x="1643" y="385.06" font-size="24" text-anchor="end" fill="#1c1c1c" textLength="13" lengthAdjust="spacingAndGlyphs" stroke="#1c1c1c" stroke-width="0.4" stroke-linejoin="round">8</text>
<text class="d" x="1643" y="406.73" font-size="24" text-anchor="end" fill="#1c1c1c" textLength="13" lengthAdjust="spacingAndGlyphs" stroke="#1c1c1c" stroke-width="0.4" stroke-linejoin="round">9</text>
<text class="d" x="1643" y="428.4" font-size="24" text-anchor="end" fill="#1c1c1c" textLength="25.6" lengthAdjust="spacingAndGlyphs" stroke="#1c1c1c" stroke-width="0.4" stroke-linejoin="round">10</text>
<text class="d" x="1643" y="450.07" font-size="24" text-anchor="end" fill="#1c1c1c" textLength="25.6" lengthAdjust="spacingAndGlyphs" stroke="#1c1c1c" stroke-width="0.4" stroke-linejoin="round">11</text>
<text class="d" x="1670.07" y="454.67" font-size="21.5" text-anchor="end" fill="#1c1c1c" transform="rotate(-90 1670.07 454.67)" textLength="91.82" lengthAdjust="spacingAndGlyphs" stroke="#1c1c1c" stroke-width="0.45" stroke-linejoin="round">H3K27ac</text>
<text class="d" x="1691.74" y="454.67" font-size="21.5" text-anchor="end" fill="#1c1c1c" transform="rotate(-90 1691.74 454.67)" textLength="100.57" lengthAdjust="spacingAndGlyphs" stroke="#1c1c1c" stroke-width="0.45" stroke-linejoin="round">H3K4me1</text>
<text class="d" x="1713.41" y="454.67" font-size="21.5" text-anchor="end" fill="#1c1c1c" transform="rotate(-90 1713.41 454.67)" textLength="100.57" lengthAdjust="spacingAndGlyphs" stroke="#1c1c1c" stroke-width="0.45" stroke-linejoin="round">H3K4me3</text>
<text class="d" x="1735.08" y="454.67" font-size="21.5" text-anchor="end" fill="#1c1c1c" transform="rotate(-90 1735.08 454.67)" textLength="113.61" lengthAdjust="spacingAndGlyphs" stroke="#1c1c1c" stroke-width="0.45" stroke-linejoin="round">H3K27me3</text>
<text class="d" x="1756.75" y="454.67" font-size="21.5" text-anchor="end" fill="#1c1c1c" transform="rotate(-90 1756.75 454.67)" textLength="100.57" lengthAdjust="spacingAndGlyphs" stroke="#1c1c1c" stroke-width="0.45" stroke-linejoin="round">H3K9me3</text>
<text class="d" x="1778.42" y="454.67" font-size="21.5" text-anchor="end" fill="#1c1c1c" transform="rotate(-90 1778.42 454.67)" textLength="113.61" lengthAdjust="spacingAndGlyphs" stroke="#1c1c1c" stroke-width="0.45" stroke-linejoin="round">H3K36me3</text>
<text class="d" x="1681.2" y="178" font-size="25" text-anchor="middle" fill="#1c1c1c" textLength="258.5" lengthAdjust="spacingAndGlyphs" stroke="#1c1c1c" stroke-width="0.55" stroke-linejoin="round">Emission Parameters</text>
<text class="d" x="1711.5" y="622" font-size="22.5" text-anchor="middle" fill="#1c1c1c" textLength="55" lengthAdjust="spacingAndGlyphs" stroke="#1c1c1c" stroke-width="0.5" stroke-linejoin="round">Mark</text>
<text class="d" x="1583.5" y="330.99" font-size="22.5" text-anchor="middle" fill="#1c1c1c" transform="rotate(-90 1583.5 330.99)" textLength="200" lengthAdjust="spacingAndGlyphs" stroke="#1c1c1c" stroke-width="0.5" stroke-linejoin="round">State (User order)</text>
<g filter="url(#bl)">
<g shape-rendering="crispEdges">
<rect x="1305" y="746" width="21" height="22" fill="#3f55a8"/>
<rect x="1326" y="746" width="22" height="22" fill="#fbfbfd"/>
<rect x="1348" y="746" width="22" height="22" fill="#3f55a8"/>
<rect x="1370" y="746" width="21" height="22" fill="#fbfbfd"/>
<rect x="1305" y="768" width="21" height="22" fill="#f1f1f8"/>
<rect x="1326" y="768" width="22" height="22" fill="#e7e7f3"/>
<rect x="1348" y="768" width="22" height="22" fill="#3f55a8"/>
<rect x="1370" y="768" width="21" height="22" fill="#fbfbfd"/>
<rect x="1305" y="790" width="21" height="21" fill="#ebebf5"/>
<rect x="1326" y="790" width="22" height="21" fill="#787bbe"/>
<rect x="1348" y="790" width="22" height="21" fill="#5a66b2"/>
<rect x="1370" y="790" width="21" height="21" fill="#4b5dad"/>
<rect x="1305" y="811" width="21" height="22" fill="#3f55a8"/>
<rect x="1326" y="811" width="22" height="22" fill="#3f55a8"/>
<rect x="1348" y="811" width="22" height="22" fill="#3f55a8"/>
<rect x="1370" y="811" width="21" height="22" fill="#fbfbfd"/>
<rect x="1413" y="811" width="22" height="22" fill="#f3f3f9"/>
<rect x="1305" y="833" width="21" height="22" fill="#f5f5fa"/>
<rect x="1326" y="833" width="22" height="22" fill="#3f55a8"/>
<rect x="1348" y="833" width="22" height="22" fill="#3f55a8"/>
<rect x="1370" y="833" width="21" height="22" fill="#fbfbfd"/>
<rect x="1413" y="833" width="22" height="22" fill="#f9f9fc"/>
<rect x="1305" y="855" width="21" height="21" fill="#3f55a8"/>
<rect x="1326" y="855" width="22" height="21" fill="#3f55a8"/>
<rect x="1413" y="855" width="22" height="21" fill="#fdfdfe"/>
<rect x="1305" y="876" width="21" height="22" fill="#cac8e5"/>
<rect x="1326" y="876" width="22" height="22" fill="#787bbe"/>
<rect x="1348" y="876" width="22" height="22" fill="#f9f9fc"/>
<rect x="1370" y="876" width="21" height="22" fill="#fdfdfe"/>
<rect x="1413" y="876" width="22" height="22" fill="#626cb5"/>
<rect x="1305" y="898" width="21" height="22" fill="#888ac6"/>
<rect x="1326" y="898" width="22" height="22" fill="#d8d6ec"/>
<rect x="1305" y="920" width="21" height="21" fill="#f5f5fa"/>
<rect x="1326" y="920" width="22" height="21" fill="#8486c4"/>
<rect x="1370" y="920" width="21" height="21" fill="#fdfdfe"/>
<rect x="1413" y="941" width="22" height="22" fill="#5a66b2"/>
<rect x="1413" y="963" width="22" height="22" fill="#e2e0f1"/>
<rect x="1326" y="1006" width="22" height="22" fill="#f9f9fc"/>
<rect x="1370" y="1006" width="21" height="22" fill="#6b71b9"/>
<rect x="1391" y="1028" width="22" height="22" fill="#f3f3f9"/>
<rect x="1305" y="1050" width="21" height="21" fill="#fdfdfe"/>
<rect x="1348" y="1050" width="22" height="21" fill="#fbfbfd"/>
<rect x="1370" y="1050" width="21" height="21" fill="#fbfbfd"/>
<rect x="1391" y="1050" width="22" height="21" fill="#626cb5"/>
<rect x="1413" y="1050" width="22" height="21" fill="#c4c3e2"/>
</g>
<path d="M1303.4 746.3V1093.02H1434.62" stroke="#262626" stroke-width="2.8" fill="none"/>
</g>
<text class="d" x="1301.4" y="768.37" font-size="24" text-anchor="end" fill="#1c1c1c" textLength="13" lengthAdjust="spacingAndGlyphs" stroke="#1c1c1c" stroke-width="0.4" stroke-linejoin="round">1</text>
<text class="d" x="1301.4" y="790.04" font-size="24" text-anchor="end" fill="#1c1c1c" textLength="13" lengthAdjust="spacingAndGlyphs" stroke="#1c1c1c" stroke-width="0.4" stroke-linejoin="round">2</text>
<text class="d" x="1301.4" y="811.71" font-size="24" text-anchor="end" fill="#1c1c1c" textLength="13" lengthAdjust="spacingAndGlyphs" stroke="#1c1c1c" stroke-width="0.4" stroke-linejoin="round">3</text>
<text class="d" x="1301.4" y="833.38" font-size="24" text-anchor="end" fill="#1c1c1c" textLength="13" lengthAdjust="spacingAndGlyphs" stroke="#1c1c1c" stroke-width="0.4" stroke-linejoin="round">4</text>
<text class="d" x="1301.4" y="855.05" font-size="24" text-anchor="end" fill="#1c1c1c" textLength="13" lengthAdjust="spacingAndGlyphs" stroke="#1c1c1c" stroke-width="0.4" stroke-linejoin="round">5</text>
<text class="d" x="1301.4" y="876.72" font-size="24" text-anchor="end" fill="#1c1c1c" textLength="13" lengthAdjust="spacingAndGlyphs" stroke="#1c1c1c" stroke-width="0.4" stroke-linejoin="round">6</text>
<text class="d" x="1301.4" y="898.39" font-size="24" text-anchor="end" fill="#1c1c1c" textLength="13" lengthAdjust="spacingAndGlyphs" stroke="#1c1c1c" stroke-width="0.4" stroke-linejoin="round">7</text>
<text class="d" x="1301.4" y="920.06" font-size="24" text-anchor="end" fill="#1c1c1c" textLength="13" lengthAdjust="spacingAndGlyphs" stroke="#1c1c1c" stroke-width="0.4" stroke-linejoin="round">8</text>
<text class="d" x="1301.4" y="941.73" font-size="24" text-anchor="end" fill="#1c1c1c" textLength="13" lengthAdjust="spacingAndGlyphs" stroke="#1c1c1c" stroke-width="0.4" stroke-linejoin="round">9</text>
<text class="d" x="1301.4" y="963.4" font-size="24" text-anchor="end" fill="#1c1c1c" textLength="25.6" lengthAdjust="spacingAndGlyphs" stroke="#1c1c1c" stroke-width="0.4" stroke-linejoin="round">10</text>
<text class="d" x="1301.4" y="985.07" font-size="24" text-anchor="end" fill="#1c1c1c" textLength="25.6" lengthAdjust="spacingAndGlyphs" stroke="#1c1c1c" stroke-width="0.4" stroke-linejoin="round">11</text>
<text class="d" x="1301.4" y="1006.74" font-size="24" text-anchor="end" fill="#1c1c1c" textLength="25.6" lengthAdjust="spacingAndGlyphs" stroke="#1c1c1c" stroke-width="0.4" stroke-linejoin="round">12</text>
<text class="d" x="1301.4" y="1028.41" font-size="24" text-anchor="end" fill="#1c1c1c" textLength="25.6" lengthAdjust="spacingAndGlyphs" stroke="#1c1c1c" stroke-width="0.4" stroke-linejoin="round">13</text>
<text class="d" x="1301.4" y="1050.08" font-size="24" text-anchor="end" fill="#1c1c1c" textLength="25.6" lengthAdjust="spacingAndGlyphs" stroke="#1c1c1c" stroke-width="0.4" stroke-linejoin="round">14</text>
<text class="d" x="1301.4" y="1071.75" font-size="24" text-anchor="end" fill="#1c1c1c" textLength="25.6" lengthAdjust="spacingAndGlyphs" stroke="#1c1c1c" stroke-width="0.4" stroke-linejoin="round">15</text>
<text class="d" x="1301.4" y="1093.42" font-size="24" text-anchor="end" fill="#1c1c1c" textLength="25.6" lengthAdjust="spacingAndGlyphs" stroke="#1c1c1c" stroke-width="0.4" stroke-linejoin="round">16</text>
<text class="d" x="1328.47" y="1098.02" font-size="21.5" text-anchor="end" fill="#1c1c1c" transform="rotate(-90 1328.47 1098.02)" textLength="91.82" lengthAdjust="spacingAndGlyphs" stroke="#1c1c1c" stroke-width="0.45" stroke-linejoin="round">H3K27ac</text>
<text class="d" x="1350.14" y="1098.02" font-size="21.5" text-anchor="end" fill="#1c1c1c" transform="rotate(-90 1350.14 1098.02)" textLength="100.57" lengthAdjust="spacingAndGlyphs" stroke="#1c1c1c" stroke-width="0.45" stroke-linejoin="round">H3K4me1</text>
<text class="d" x="1371.81" y="1098.02" font-size="21.5" text-anchor="end" fill="#1c1c1c" transform="rotate(-90 1371.81 1098.02)" textLength="100.57" lengthAdjust="spacingAndGlyphs" stroke="#1c1c1c" stroke-width="0.45" stroke-linejoin="round">H3K4me3</text>
<text class="d" x="1393.48" y="1098.02" font-size="21.5" text-anchor="end" fill="#1c1c1c" transform="rotate(-90 1393.48 1098.02)" textLength="113.61" lengthAdjust="spacingAndGlyphs" stroke="#1c1c1c" stroke-width="0.45" stroke-linejoin="round">H3K27me3</text>
<text class="d" x="1415.15" y="1098.02" font-size="21.5" text-anchor="end" fill="#1c1c1c" transform="rotate(-90 1415.15 1098.02)" textLength="100.57" lengthAdjust="spacingAndGlyphs" stroke="#1c1c1c" stroke-width="0.45" stroke-linejoin="round">H3K9me3</text>
<text class="d" x="1436.82" y="1098.02" font-size="21.5" text-anchor="end" fill="#1c1c1c" transform="rotate(-90 1436.82 1098.02)" textLength="113.61" lengthAdjust="spacingAndGlyphs" stroke="#1c1c1c" stroke-width="0.45" stroke-linejoin="round">H3K36me3</text>
<text class="d" x="1339.6" y="713" font-size="25" text-anchor="middle" fill="#1c1c1c" textLength="258.5" lengthAdjust="spacingAndGlyphs" stroke="#1c1c1c" stroke-width="0.55" stroke-linejoin="round">Emission Parameters</text>
<text class="d" x="1369.9" y="1265" font-size="22.5" text-anchor="middle" fill="#1c1c1c" textLength="55" lengthAdjust="spacingAndGlyphs" stroke="#1c1c1c" stroke-width="0.5" stroke-linejoin="round">Mark</text>
<text class="d" x="1241.9" y="920.16" font-size="22.5" text-anchor="middle" fill="#1c1c1c" transform="rotate(-90 1241.9 920.16)" textLength="200" lengthAdjust="spacingAndGlyphs" stroke="#1c1c1c" stroke-width="0.5" stroke-linejoin="round">State (User order)</text>
<g filter="url(#bl)">
<g shape-rendering="crispEdges">
<rect x="1646" y="746" width="22" height="22" fill="#3f55a8"/>
<rect x="1668" y="746" width="22" height="22" fill="#fbfbfd"/>
<rect x="1690" y="746" width="21" height="22" fill="#3f55a8"/>
<rect x="1711" y="746" width="22" height="22" fill="#fdfdfe"/>
<rect x="1646" y="768" width="22" height="22" fill="#f1f1f8"/>
<rect x="1668" y="768" width="22" height="22" fill="#e7e7f3"/>
<rect x="1690" y="768" width="21" height="22" fill="#3f55a8"/>
<rect x="1711" y="768" width="22" height="22" fill="#fbfbfd"/>
<rect x="1646" y="790" width="22" height="21" fill="#e7e7f3"/>
<rect x="1668" y="790" width="22" height="21" fill="#787bbe"/>
<rect x="1690" y="790" width="21" height="21" fill="#5a66b2"/>
<rect x="1711" y="790" width="22" height="21" fill="#4b5dad"/>
<rect x="1646" y="811" width="22" height="22" fill="#3f55a8"/>
<rect x="1668" y="811" width="22" height="22" fill="#3f55a8"/>
<rect x="1690" y="811" width="21" height="22" fill="#3f55a8"/>
<rect x="1711" y="811" width="22" height="22" fill="#f9f9fc"/>
<rect x="1755" y="811" width="21" height="22" fill="#f3f3f9"/>
<rect x="1646" y="833" width="22" height="22" fill="#f5f5fa"/>
<rect x="1668" y="833" width="22" height="22" fill="#3f55a8"/>
<rect x="1690" y="833" width="21" height="22" fill="#3f55a8"/>
<rect x="1711" y="833" width="22" height="22" fill="#fbfbfd"/>
<rect x="1755" y="833" width="21" height="22" fill="#f9f9fc"/>
<rect x="1646" y="855" width="22" height="21" fill="#3f55a8"/>
<rect x="1668" y="855" width="22" height="21" fill="#3f55a8"/>
<rect x="1690" y="855" width="21" height="21" fill="#fdfdfe"/>
<rect x="1755" y="855" width="21" height="21" fill="#fdfdfe"/>
<rect x="1646" y="876" width="22" height="22" fill="#888ac6"/>
<rect x="1668" y="876" width="22" height="22" fill="#d8d6ec"/>
<rect x="1646" y="898" width="22" height="22" fill="#cac8e5"/>
<rect x="1668" y="898" width="22" height="22" fill="#787bbe"/>
<rect x="1690" y="898" width="21" height="22" fill="#f5f5fa"/>
<rect x="1755" y="898" width="21" height="22" fill="#626cb5"/>
<rect x="1646" y="920" width="22" height="21" fill="#f5f5fa"/>
<rect x="1668" y="920" width="22" height="21" fill="#8486c4"/>
<rect x="1711" y="920" width="22" height="21" fill="#fdfdfe"/>
<rect x="1755" y="941" width="21" height="22" fill="#5a66b2"/>
<rect x="1755" y="963" width="21" height="22" fill="#e2e0f1"/>
<rect x="1668" y="1006" width="22" height="22" fill="#fbfbfd"/>
<rect x="1711" y="1006" width="22" height="22" fill="#6b71b9"/>
<rect x="1733" y="1028" width="22" height="22" fill="#e2e0f1"/>
<rect x="1646" y="1050" width="22" height="21" fill="#fbfbfd"/>
<rect x="1668" y="1050" width="22" height="21" fill="#fbfbfd"/>
<rect x="1690" y="1050" width="21" height="21" fill="#f9f9fc"/>
<rect x="1711" y="1050" width="22" height="21" fill="#f5f5fa"/>
<rect x="1733" y="1050" width="22" height="21" fill="#6b71b9"/>
<rect x="1755" y="1050" width="21" height="21" fill="#7477bc"/>
</g>
<path d="M1645 746.3V1093.02H1776.22" stroke="#262626" stroke-width="2.8" fill="none"/>
</g>
<text class="d" x="1643" y="768.37" font-size="24" text-anchor="end" fill="#1c1c1c" textLength="13" lengthAdjust="spacingAndGlyphs" stroke="#1c1c1c" stroke-width="0.4" stroke-linejoin="round">1</text>
<text class="d" x="1643" y="790.04" font-size="24" text-anchor="end" fill="#1c1c1c" textLength="13" lengthAdjust="spacingAndGlyphs" stroke="#1c1c1c" stroke-width="0.4" stroke-linejoin="round">2</text>
<text class="d" x="1643" y="811.71" font-size="24" text-anchor="end" fill="#1c1c1c" textLength="13" lengthAdjust="spacingAndGlyphs" stroke="#1c1c1c" stroke-width="0.4" stroke-linejoin="round">3</text>
<text class="d" x="1643" y="833.38" font-size="24" text-anchor="end" fill="#1c1c1c" textLength="13" lengthAdjust="spacingAndGlyphs" stroke="#1c1c1c" stroke-width="0.4" stroke-linejoin="round">4</text>
<text class="d" x="1643" y="855.05" font-size="24" text-anchor="end" fill="#1c1c1c" textLength="13" lengthAdjust="spacingAndGlyphs" stroke="#1c1c1c" stroke-width="0.4" stroke-linejoin="round">5</text>
<text class="d" x="1643" y="876.72" font-size="24" text-anchor="end" fill="#1c1c1c" textLength="13" lengthAdjust="spacingAndGlyphs" stroke="#1c1c1c" stroke-width="0.4" stroke-linejoin="round">6</text>
<text class="d" x="1643" y="898.39" font-size="24" text-anchor="end" fill="#1c1c1c" textLength="13" lengthAdjust="spacingAndGlyphs" stroke="#1c1c1c" stroke-width="0.4" stroke-linejoin="round">7</text>
<text class="d" x="1643" y="920.06" font-size="24" text-anchor="end" fill="#1c1c1c" textLength="13" lengthAdjust="spacingAndGlyphs" stroke="#1c1c1c" stroke-width="0.4" stroke-linejoin="round">8</text>
<text class="d" x="1643" y="941.73" font-size="24" text-anchor="end" fill="#1c1c1c" textLength="13" lengthAdjust="spacingAndGlyphs" stroke="#1c1c1c" stroke-width="0.4" stroke-linejoin="round">9</text>
<text class="d" x="1643" y="963.4" font-size="24" text-anchor="end" fill="#1c1c1c" textLength="25.6" lengthAdjust="spacingAndGlyphs" stroke="#1c1c1c" stroke-width="0.4" stroke-linejoin="round">10</text>
<text class="d" x="1643" y="985.07" font-size="24" text-anchor="end" fill="#1c1c1c" textLength="25.6" lengthAdjust="spacingAndGlyphs" stroke="#1c1c1c" stroke-width="0.4" stroke-linejoin="round">11</text>
<text class="d" x="1643" y="1006.74" font-size="24" text-anchor="end" fill="#1c1c1c" textLength="25.6" lengthAdjust="spacingAndGlyphs" stroke="#1c1c1c" stroke-width="0.4" stroke-linejoin="round">12</text>
<text class="d" x="1643" y="1028.41" font-size="24" text-anchor="end" fill="#1c1c1c" textLength="25.6" lengthAdjust="spacingAndGlyphs" stroke="#1c1c1c" stroke-width="0.4" stroke-linejoin="round">13</text>
<text class="d" x="1643" y="1050.08" font-size="24" text-anchor="end" fill="#1c1c1c" textLength="25.6" lengthAdjust="spacingAndGlyphs" stroke="#1c1c1c" stroke-width="0.4" stroke-linejoin="round">14</text>
<text class="d" x="1643" y="1071.75" font-size="24" text-anchor="end" fill="#1c1c1c" textLength="25.6" lengthAdjust="spacingAndGlyphs" stroke="#1c1c1c" stroke-width="0.4" stroke-linejoin="round">15</text>
<text class="d" x="1643" y="1093.42" font-size="24" text-anchor="end" fill="#1c1c1c" textLength="25.6" lengthAdjust="spacingAndGlyphs" stroke="#1c1c1c" stroke-width="0.4" stroke-linejoin="round">16</text>
<text class="d" x="1670.07" y="1098.02" font-size="21.5" text-anchor="end" fill="#1c1c1c" transform="rotate(-90 1670.07 1098.02)" textLength="91.82" lengthAdjust="spacingAndGlyphs" stroke="#1c1c1c" stroke-width="0.45" stroke-linejoin="round">H3K27ac</text>
<text class="d" x="1691.74" y="1098.02" font-size="21.5" text-anchor="end" fill="#1c1c1c" transform="rotate(-90 1691.74 1098.02)" textLength="100.57" lengthAdjust="spacingAndGlyphs" stroke="#1c1c1c" stroke-width="0.45" stroke-linejoin="round">H3K4me1</text>
<text class="d" x="1713.41" y="1098.02" font-size="21.5" text-anchor="end" fill="#1c1c1c" transform="rotate(-90 1713.41 1098.02)" textLength="100.57" lengthAdjust="spacingAndGlyphs" stroke="#1c1c1c" stroke-width="0.45" stroke-linejoin="round">H3K4me3</text>
<text class="d" x="1735.08" y="1098.02" font-size="21.5" text-anchor="end" fill="#1c1c1c" transform="rotate(-90 1735.08 1098.02)" textLength="113.61" lengthAdjust="spacingAndGlyphs" stroke="#1c1c1c" stroke-width="0.45" stroke-linejoin="round">H3K27me3</text>
<text class="d" x="1756.75" y="1098.02" font-size="21.5" text-anchor="end" fill="#1c1c1c" transform="rotate(-90 1756.75 1098.02)" textLength="100.57" lengthAdjust="spacingAndGlyphs" stroke="#1c1c1c" stroke-width="0.45" stroke-linejoin="round">H3K9me3</text>
<text class="d" x="1778.42" y="1098.02" font-size="21.5" text-anchor="end" fill="#1c1c1c" transform="rotate(-90 1778.42 1098.02)" textLength="113.61" lengthAdjust="spacingAndGlyphs" stroke="#1c1c1c" stroke-width="0.45" stroke-linejoin="round">H3K36me3</text>
<text class="d" x="1681.2" y="713" font-size="25" text-anchor="middle" fill="#1c1c1c" textLength="258.5" lengthAdjust="spacingAndGlyphs" stroke="#1c1c1c" stroke-width="0.55" stroke-linejoin="round">Emission Parameters</text>
<text class="d" x="1711.5" y="1265" font-size="22.5" text-anchor="middle" fill="#1c1c1c" textLength="55" lengthAdjust="spacingAndGlyphs" stroke="#1c1c1c" stroke-width="0.5" stroke-linejoin="round">Mark</text>
<text class="d" x="1583.5" y="920.16" font-size="22.5" text-anchor="middle" fill="#1c1c1c" transform="rotate(-90 1583.5 920.16)" textLength="200" lengthAdjust="spacingAndGlyphs" stroke="#1c1c1c" stroke-width="0.5" stroke-linejoin="round">State (User order)</text>
<clipPath id="gc1"><rect x="271.9" y="1406.8" width="591.1" height="726"/></clipPath>
<g clip-path="url(#gc1)">
<rect x="273.3" y="1408.3" width="53.72" height="48.38" fill="#f9a31b"/>
<rect x="273.3" y="1456.68" width="53.72" height="48.38" fill="#fef3e2"/>
<rect x="327.02" y="1456.68" width="53.72" height="48.38" fill="#f9a620"/>
<rect x="380.74" y="1505.07" width="53.72" height="48.38" fill="#f9a620"/>
<rect x="703.06" y="1505.07" width="53.72" height="48.38" fill="#fef3e2"/>
<rect x="327.02" y="1553.45" width="53.72" height="48.38" fill="#fee9c9"/>
<rect x="434.46" y="1553.45" width="53.72" height="48.38" fill="#fab032"/>
<rect x="488.18" y="1601.84" width="53.72" height="48.38" fill="#f9a31b"/>
<rect x="434.46" y="1650.22" width="53.72" height="48.38" fill="#fdd596"/>
<rect x="488.18" y="1650.22" width="53.72" height="48.38" fill="#fddfae"/>
<rect x="488.18" y="1698.61" width="53.72" height="48.38" fill="#fdd596"/>
<rect x="541.9" y="1698.61" width="53.72" height="48.38" fill="#fddfae"/>
<rect x="649.34" y="1698.61" width="53.72" height="48.38" fill="#fef3e2"/>
<rect x="541.9" y="1746.99" width="53.72" height="48.38" fill="#f9a31b"/>
<rect x="327.02" y="1795.38" width="53.72" height="48.38" fill="#fef3e2"/>
<rect x="541.9" y="1795.38" width="53.72" height="48.38" fill="#fee9c9"/>
<rect x="649.34" y="1795.38" width="53.72" height="48.38" fill="#fddfae"/>
<rect x="810.5" y="1795.38" width="53.72" height="48.38" fill="#fef3e2"/>
<rect x="595.62" y="1843.76" width="53.72" height="48.38" fill="#f9a31b"/>
<rect x="649.34" y="1892.15" width="53.72" height="48.38" fill="#f9a31b"/>
<rect x="541.9" y="1940.53" width="53.72" height="48.38" fill="#fab032"/>
<rect x="703.06" y="1988.92" width="53.72" height="48.38" fill="#f9a31b"/>
<rect x="756.78" y="2037.3" width="53.72" height="48.38" fill="#f9a31b"/>
<rect x="810.5" y="2085.69" width="53.72" height="48.38" fill="#f9a31b"/>
<path d="M273.3 1403.8V2135.8M327.02 1403.8V2135.8M380.74 1403.8V2135.8M434.46 1403.8V2135.8M488.18 1403.8V2135.8M541.9 1403.8V2135.8M595.62 1403.8V2135.8M649.34 1403.8V2135.8M703.06 1403.8V2135.8M756.78 1403.8V2135.8M810.5 1403.8V2135.8M864.22 1403.8V2135.8" stroke="#000" stroke-width="5.4" fill="none"/>
<path d="M268.9 1408.3H866M268.9 1456.68H866M268.9 1505.07H866M268.9 1553.45H866M268.9 1601.84H866M268.9 1650.22H866M268.9 1698.61H866M268.9 1746.99H866M268.9 1795.38H866M268.9 1843.76H866M268.9 1892.15H866M268.9 1940.53H866M268.9 1988.92H866M268.9 2037.3H866M268.9 2085.69H866M268.9 2134.07H866" stroke="#000" stroke-width="5" fill="none"/>
</g>
<text class="r" x="298.76" y="1437.89" font-size="19" text-anchor="middle" fill="#000" stroke="#000" stroke-width="0.5" stroke-linejoin="round">0.94</text>
<text class="r" x="459.92" y="1437.89" font-size="19" text-anchor="middle" fill="#000" stroke="#000" stroke-width="0.5" stroke-linejoin="round">0.05</text>
<text class="r" x="298.76" y="1486.28" font-size="19" text-anchor="middle" fill="#000" stroke="#000" stroke-width="0.5" stroke-linejoin="round">0.15</text>
<text class="r" x="352.48" y="1486.28" font-size="19" text-anchor="middle" fill="#000" stroke="#000" stroke-width="0.5" stroke-linejoin="round">0.8</text>
<text class="r" x="406.2" y="1534.66" font-size="19" text-anchor="middle" fill="#000" stroke="#000" stroke-width="0.5" stroke-linejoin="round">0.86</text>
<text class="r" x="728.52" y="1534.66" font-size="19" text-anchor="middle" fill="#000" stroke="#000" stroke-width="0.5" stroke-linejoin="round">0.11</text>
<text class="r" x="352.48" y="1583.05" font-size="19" text-anchor="middle" fill="#000" stroke="#000" stroke-width="0.5" stroke-linejoin="round">0.23</text>
<text class="r" x="459.92" y="1583.05" font-size="19" text-anchor="middle" fill="#000" stroke="#000" stroke-width="0.5" stroke-linejoin="round">0.75</text>
<text class="r" x="513.64" y="1631.43" font-size="19" text-anchor="middle" fill="#000" stroke="#000" stroke-width="0.5" stroke-linejoin="round">0.92</text>
<text class="r" x="567.36" y="1631.43" font-size="19" text-anchor="middle" fill="#000" stroke="#000" stroke-width="0.5" stroke-linejoin="round">0.08</text>
<text class="r" x="298.76" y="1679.82" font-size="19" text-anchor="middle" fill="#000" stroke="#000" stroke-width="0.5" stroke-linejoin="round">0.08</text>
<text class="r" x="459.92" y="1679.82" font-size="19" text-anchor="middle" fill="#000" stroke="#000" stroke-width="0.5" stroke-linejoin="round">0.49</text>
<text class="r" x="513.64" y="1679.82" font-size="19" text-anchor="middle" fill="#000" stroke="#000" stroke-width="0.5" stroke-linejoin="round">0.38</text>
<text class="r" x="513.64" y="1728.2" font-size="19" text-anchor="middle" fill="#000" stroke="#000" stroke-width="0.5" stroke-linejoin="round">0.49</text>
<text class="r" x="567.36" y="1728.2" font-size="19" text-anchor="middle" fill="#000" stroke="#000" stroke-width="0.5" stroke-linejoin="round">0.35</text>
<text class="r" x="674.8" y="1728.2" font-size="19" text-anchor="middle" fill="#000" stroke="#000" stroke-width="0.5" stroke-linejoin="round">0.15</text>
<text class="r" x="567.36" y="1776.59" font-size="19" text-anchor="middle" fill="#000" stroke="#000" stroke-width="0.5" stroke-linejoin="round">0.91</text>
<text class="r" x="674.8" y="1776.59" font-size="19" text-anchor="middle" fill="#000" stroke="#000" stroke-width="0.5" stroke-linejoin="round">0.07</text>
<text class="r" x="352.48" y="1824.97" font-size="19" text-anchor="middle" fill="#000" stroke="#000" stroke-width="0.5" stroke-linejoin="round">0.18</text>
<text class="r" x="567.36" y="1824.97" font-size="19" text-anchor="middle" fill="#000" stroke="#000" stroke-width="0.5" stroke-linejoin="round">0.26</text>
<text class="r" x="674.8" y="1824.97" font-size="19" text-anchor="middle" fill="#000" stroke="#000" stroke-width="0.5" stroke-linejoin="round">0.33</text>
<text class="r" x="835.96" y="1824.97" font-size="19" text-anchor="middle" fill="#000" stroke="#000" stroke-width="0.5" stroke-linejoin="round">0.14</text>
<text class="r" x="621.08" y="1873.36" font-size="19" text-anchor="middle" fill="#000" stroke="#000" stroke-width="0.5" stroke-linejoin="round">0.98</text>
<text class="r" x="674.8" y="1921.74" font-size="19" text-anchor="middle" fill="#000" stroke="#000" stroke-width="0.5" stroke-linejoin="round">0.93</text>
<text class="r" x="835.96" y="1921.74" font-size="19" text-anchor="middle" fill="#000" stroke="#000" stroke-width="0.5" stroke-linejoin="round">0.06</text>
<text class="r" x="459.92" y="1970.13" font-size="19" text-anchor="middle" fill="#000" stroke="#000" stroke-width="0.5" stroke-linejoin="round">0.06</text>
<text class="r" x="567.36" y="1970.13" font-size="19" text-anchor="middle" fill="#000" stroke="#000" stroke-width="0.5" stroke-linejoin="round">0.77</text>
<text class="r" x="621.08" y="1970.13" font-size="19" text-anchor="middle" fill="#000" stroke="#000" stroke-width="0.5" stroke-linejoin="round">0.09</text>
<text class="r" x="728.52" y="2018.51" font-size="19" text-anchor="middle" fill="#000" stroke="#000" stroke-width="0.5" stroke-linejoin="round">0.96</text>
<text class="r" x="782.24" y="2066.9" font-size="19" text-anchor="middle" fill="#000" stroke="#000" stroke-width="0.5" stroke-linejoin="round">0.99</text>
<text class="r" x="835.96" y="2115.28" font-size="19" text-anchor="middle" fill="#000" stroke="#000" stroke-width="0.5" stroke-linejoin="round">0.99</text>
<text class="b" x="200.8" y="1443" font-size="27.5" text-anchor="end" fill="#000" stroke="#000" stroke-width="0.7" stroke-linejoin="round">Pr-A</text>
<text class="b" x="253.4" y="1443" font-size="27.5" text-anchor="end" fill="#000" stroke="#000" stroke-width="0.7" stroke-linejoin="round">1</text>
<text class="b" x="200.8" y="1491.32" font-size="27.5" text-anchor="end" fill="#000" stroke="#000" stroke-width="0.7" stroke-linejoin="round">Pr-W</text>
<text class="b" x="253.4" y="1491.32" font-size="27.5" text-anchor="end" fill="#000" stroke="#000" stroke-width="0.7" stroke-linejoin="round">2</text>
<text class="b" x="200.8" y="1539.64" font-size="27.5" text-anchor="end" fill="#000" stroke="#000" stroke-width="0.7" stroke-linejoin="round">Pr-B</text>
<text class="b" x="253.4" y="1539.64" font-size="27.5" text-anchor="end" fill="#000" stroke="#000" stroke-width="0.7" stroke-linejoin="round">3</text>
<text class="b" x="200.8" y="1587.96" font-size="27.5" text-anchor="end" fill="#000" stroke="#000" stroke-width="0.7" stroke-linejoin="round">Pr-F</text>
<text class="b" x="253.4" y="1587.96" font-size="27.5" text-anchor="end" fill="#000" stroke="#000" stroke-width="0.7" stroke-linejoin="round">4</text>
<text class="b" x="200.8" y="1636.28" font-size="27.5" text-anchor="end" fill="#000" stroke="#000" stroke-width="0.7" stroke-linejoin="round">En-Sd</text>
<text class="b" x="253.4" y="1636.28" font-size="27.5" text-anchor="end" fill="#000" stroke="#000" stroke-width="0.7" stroke-linejoin="round">5</text>
<text class="b" x="200.8" y="1684.6" font-size="27.5" text-anchor="end" fill="#000" stroke="#000" stroke-width="0.7" stroke-linejoin="round">En-Sp</text>
<text class="b" x="253.4" y="1684.6" font-size="27.5" text-anchor="end" fill="#000" stroke="#000" stroke-width="0.7" stroke-linejoin="round">6</text>
<text class="b" x="200.8" y="1732.92" font-size="27.5" text-anchor="end" fill="#000" stroke="#000" stroke-width="0.7" stroke-linejoin="round">En-W</text>
<text class="b" x="253.4" y="1732.92" font-size="27.5" text-anchor="end" fill="#000" stroke="#000" stroke-width="0.7" stroke-linejoin="round">7</text>
<text class="b" x="200.8" y="1781.24" font-size="27.5" text-anchor="end" fill="#000" stroke="#000" stroke-width="0.7" stroke-linejoin="round">En-Pd</text>
<text class="b" x="253.4" y="1781.24" font-size="27.5" text-anchor="end" fill="#000" stroke="#000" stroke-width="0.7" stroke-linejoin="round">8</text>
<text class="b" x="200.8" y="1829.56" font-size="27.5" text-anchor="end" fill="#000" stroke="#000" stroke-width="0.7" stroke-linejoin="round">En-Pp</text>
<text class="b" x="253.4" y="1829.56" font-size="27.5" text-anchor="end" fill="#000" stroke="#000" stroke-width="0.7" stroke-linejoin="round">9</text>
<text class="b" x="200.8" y="1877.88" font-size="27.5" text-anchor="end" fill="#000" stroke="#000" stroke-width="0.7" stroke-linejoin="round">Tx-S</text>
<text class="b" x="253.4" y="1877.88" font-size="27.5" text-anchor="end" fill="#000" stroke="#000" stroke-width="0.7" stroke-linejoin="round">10</text>
<text class="b" x="200.8" y="1926.2" font-size="27.5" text-anchor="end" fill="#000" stroke="#000" stroke-width="0.7" stroke-linejoin="round">Tx-P</text>
<text class="b" x="253.4" y="1926.2" font-size="27.5" text-anchor="end" fill="#000" stroke="#000" stroke-width="0.7" stroke-linejoin="round">11</text>
<text class="b" x="200.8" y="1974.52" font-size="27.5" text-anchor="end" fill="#000" stroke="#000" stroke-width="0.7" stroke-linejoin="round">Tx-I</text>
<text class="b" x="253.4" y="1974.52" font-size="27.5" text-anchor="end" fill="#000" stroke="#000" stroke-width="0.7" stroke-linejoin="round">12</text>
<text class="b" x="200.8" y="2022.84" font-size="27.5" text-anchor="end" fill="#000" stroke="#000" stroke-width="0.7" stroke-linejoin="round">Hc-P</text>
<text class="b" x="253.4" y="2022.84" font-size="27.5" text-anchor="end" fill="#000" stroke="#000" stroke-width="0.7" stroke-linejoin="round">13</text>
<text class="b" x="200.8" y="2071.16" font-size="27.5" text-anchor="end" fill="#000" stroke="#000" stroke-width="0.7" stroke-linejoin="round">Hc-H</text>
<text class="b" x="253.4" y="2071.16" font-size="27.5" text-anchor="end" fill="#000" stroke="#000" stroke-width="0.7" stroke-linejoin="round">14</text>
<text class="b" x="200.8" y="2119.48" font-size="27.5" text-anchor="end" fill="#000" stroke="#000" stroke-width="0.7" stroke-linejoin="round">NS</text>
<text class="b" x="253.4" y="2119.48" font-size="27.5" text-anchor="end" fill="#000" stroke="#000" stroke-width="0.7" stroke-linejoin="round">15</text>
<text class="b" x="306.7" y="1391.5" font-size="27.5" text-anchor="start" fill="#000" transform="rotate(-90 306.7 1391.5)" stroke="#000" stroke-width="0.7" stroke-linejoin="round">1</text>
<text class="b" x="361.24" y="1391.5" font-size="27.5" text-anchor="start" fill="#000" transform="rotate(-90 361.24 1391.5)" stroke="#000" stroke-width="0.7" stroke-linejoin="round">2</text>
<text class="b" x="415.78" y="1391.5" font-size="27.5" text-anchor="start" fill="#000" transform="rotate(-90 415.78 1391.5)" stroke="#000" stroke-width="0.7" stroke-linejoin="round">3</text>
<text class="b" x="470.32" y="1391.5" font-size="27.5" text-anchor="start" fill="#000" transform="rotate(-90 470.32 1391.5)" stroke="#000" stroke-width="0.7" stroke-linejoin="round">4</text>
<text class="b" x="524.86" y="1391.5" font-size="27.5" text-anchor="start" fill="#000" transform="rotate(-90 524.86 1391.5)" stroke="#000" stroke-width="0.7" stroke-linejoin="round">5</text>
<text class="b" x="579.4" y="1391.5" font-size="27.5" text-anchor="start" fill="#000" transform="rotate(-90 579.4 1391.5)" stroke="#000" stroke-width="0.7" stroke-linejoin="round">6</text>
<text class="b" x="633.94" y="1391.5" font-size="27.5" text-anchor="start" fill="#000" transform="rotate(-90 633.94 1391.5)" stroke="#000" stroke-width="0.7" stroke-linejoin="round">7</text>
<text class="b" x="688.48" y="1391.5" font-size="27.5" text-anchor="start" fill="#000" transform="rotate(-90 688.48 1391.5)" stroke="#000" stroke-width="0.7" stroke-linejoin="round">8</text>
<text class="b" x="743.02" y="1391.5" font-size="27.5" text-anchor="start" fill="#000" transform="rotate(-90 743.02 1391.5)" stroke="#000" stroke-width="0.7" stroke-linejoin="round">9</text>
<text class="b" x="797.56" y="1391.5" font-size="27.5" text-anchor="start" fill="#000" transform="rotate(-90 797.56 1391.5)" textLength="28.45" lengthAdjust="spacingAndGlyphs" stroke="#000" stroke-width="0.7" stroke-linejoin="round">10</text>
<text class="b" x="852.1" y="1391.5" font-size="27.5" text-anchor="start" fill="#000" transform="rotate(-90 852.1 1391.5)" textLength="27.04" lengthAdjust="spacingAndGlyphs" stroke="#000" stroke-width="0.7" stroke-linejoin="round">11</text>
<text class="b" x="418.8" y="1351.2" font-size="27.5" text-anchor="start" fill="#1c1a1a" textLength="297" lengthAdjust="spacingAndGlyphs" stroke="#1c1a1a" stroke-width="0.6" stroke-linejoin="round">6-mark, 11-state model</text>
<text class="b" x="877.2" y="1694.6" font-size="34" text-anchor="start" fill="#1c1a1a" stroke="#1c1a1a" stroke-width="0.4" stroke-linejoin="round">*</text>
<text class="b" x="877.2" y="1842.8" font-size="34" text-anchor="start" fill="#1c1a1a" stroke="#1c1a1a" stroke-width="0.4" stroke-linejoin="round">*</text>
<text class="b" x="877.2" y="1984.5" font-size="34" text-anchor="start" fill="#1c1a1a" textLength="30.4" lengthAdjust="spacingAndGlyphs" stroke="#1c1a1a" stroke-width="0.4" stroke-linejoin="round">**</text>
<clipPath id="gc2"><rect x="1107.2" y="1410.3" width="759.4" height="726"/></clipPath>
<g clip-path="url(#gc2)">
<rect x="1108.44" y="1411.9" width="47.46" height="48.39" fill="#f9a31b"/>
<rect x="1155.9" y="1460.29" width="47.46" height="48.39" fill="#f9a620"/>
<rect x="1203.36" y="1508.68" width="47.46" height="48.39" fill="#f9a620"/>
<rect x="1677.96" y="1508.68" width="47.46" height="48.39" fill="#fef3e2"/>
<rect x="1155.9" y="1557.07" width="47.46" height="48.39" fill="#fef3e2"/>
<rect x="1298.28" y="1557.07" width="47.46" height="48.39" fill="#fab032"/>
<rect x="1345.74" y="1605.46" width="47.46" height="48.39" fill="#f9a620"/>
<rect x="1440.66" y="1605.46" width="47.46" height="48.39" fill="#fef3e2"/>
<rect x="1250.82" y="1653.85" width="47.46" height="48.39" fill="#fcc874"/>
<rect x="1345.74" y="1653.85" width="47.46" height="48.39" fill="#fee9c9"/>
<rect x="1440.66" y="1653.85" width="47.46" height="48.39" fill="#fef3e2"/>
<rect x="1440.66" y="1702.24" width="47.46" height="48.39" fill="#f9a31b"/>
<rect x="1488.12" y="1750.63" width="47.46" height="48.39" fill="#f9a620"/>
<rect x="1155.9" y="1799.02" width="47.46" height="48.39" fill="#fef3e2"/>
<rect x="1488.12" y="1799.02" width="47.46" height="48.39" fill="#fee9c9"/>
<rect x="1630.5" y="1799.02" width="47.46" height="48.39" fill="#fddfae"/>
<rect x="1535.58" y="1847.41" width="47.46" height="48.39" fill="#fdd596"/>
<rect x="1583.04" y="1847.41" width="47.46" height="48.39" fill="#fdd596"/>
<rect x="1583.04" y="1895.8" width="47.46" height="48.39" fill="#fef3e2"/>
<rect x="1630.5" y="1895.8" width="47.46" height="48.39" fill="#f9a620"/>
<rect x="1393.2" y="1944.19" width="47.46" height="48.39" fill="#fef3e2"/>
<rect x="1488.12" y="1944.19" width="47.46" height="48.39" fill="#fbbc54"/>
<rect x="1677.96" y="1992.58" width="47.46" height="48.39" fill="#f9a31b"/>
<rect x="1725.42" y="2040.97" width="47.46" height="48.39" fill="#fab032"/>
<rect x="1772.88" y="2040.97" width="47.46" height="48.39" fill="#fef3e2"/>
<rect x="1630.5" y="2089.36" width="47.46" height="48.39" fill="#fef3e2"/>
<rect x="1820.34" y="2089.36" width="47.46" height="48.39" fill="#f9a620"/>
<path d="M1108.44 1407.3V2139.3M1155.9 1407.3V2139.3M1203.36 1407.3V2139.3M1250.82 1407.3V2139.3M1298.28 1407.3V2139.3M1345.74 1407.3V2139.3M1393.2 1407.3V2139.3M1440.66 1407.3V2139.3M1488.12 1407.3V2139.3M1535.58 1407.3V2139.3M1583.04 1407.3V2139.3M1630.5 1407.3V2139.3M1677.96 1407.3V2139.3M1725.42 1407.3V2139.3M1772.88 1407.3V2139.3M1820.34 1407.3V2139.3M1867.8 1407.3V2139.3" stroke="#000" stroke-width="5.4" fill="none"/>
<path d="M1104.2 1411.9H1869.6M1104.2 1460.29H1869.6M1104.2 1508.68H1869.6M1104.2 1557.07H1869.6M1104.2 1605.46H1869.6M1104.2 1653.85H1869.6M1104.2 1702.24H1869.6M1104.2 1750.63H1869.6M1104.2 1799.02H1869.6M1104.2 1847.41H1869.6M1104.2 1895.8H1869.6M1104.2 1944.19H1869.6M1104.2 1992.58H1869.6M1104.2 2040.97H1869.6M1104.2 2089.36H1869.6M1104.2 2137.75H1869.6" stroke="#000" stroke-width="5" fill="none"/>
</g>
<text class="r" x="1130.77" y="1441.5" font-size="19" text-anchor="middle" fill="#000" stroke="#000" stroke-width="0.5" stroke-linejoin="round">0.92</text>
<text class="r" x="1273.15" y="1441.5" font-size="19" text-anchor="middle" fill="#000" stroke="#000" stroke-width="0.5" stroke-linejoin="round">0.07</text>
<text class="r" x="1130.77" y="1489.89" font-size="19" text-anchor="middle" fill="#000" stroke="#000" stroke-width="0.5" stroke-linejoin="round">0.09</text>
<text class="r" x="1178.23" y="1489.89" font-size="19" text-anchor="middle" fill="#000" stroke="#000" stroke-width="0.5" stroke-linejoin="round">0.87</text>
<text class="r" x="1225.69" y="1538.28" font-size="19" text-anchor="middle" fill="#000" stroke="#000" stroke-width="0.5" stroke-linejoin="round">0.86</text>
<text class="r" x="1700.29" y="1538.28" font-size="19" text-anchor="middle" fill="#000" stroke="#000" stroke-width="0.5" stroke-linejoin="round">0.11</text>
<text class="r" x="1178.23" y="1586.67" font-size="19" text-anchor="middle" fill="#000" stroke="#000" stroke-width="0.5" stroke-linejoin="round">0.11</text>
<text class="r" x="1273.15" y="1586.67" font-size="19" text-anchor="middle" fill="#000" stroke="#000" stroke-width="0.5" stroke-linejoin="round">0.08</text>
<text class="r" x="1320.61" y="1586.67" font-size="19" text-anchor="middle" fill="#000" stroke="#000" stroke-width="0.5" stroke-linejoin="round">0.78</text>
<text class="r" x="1368.07" y="1635.06" font-size="19" text-anchor="middle" fill="#000" stroke="#000" stroke-width="0.5" stroke-linejoin="round">0.81</text>
<text class="r" x="1462.99" y="1635.06" font-size="19" text-anchor="middle" fill="#000" stroke="#000" stroke-width="0.5" stroke-linejoin="round">0.11</text>
<text class="r" x="1130.77" y="1683.45" font-size="19" text-anchor="middle" fill="#000" stroke="#000" stroke-width="0.5" stroke-linejoin="round">0.06</text>
<text class="r" x="1273.15" y="1683.45" font-size="19" text-anchor="middle" fill="#000" stroke="#000" stroke-width="0.5" stroke-linejoin="round">0.53</text>
<text class="r" x="1368.07" y="1683.45" font-size="19" text-anchor="middle" fill="#000" stroke="#000" stroke-width="0.5" stroke-linejoin="round">0.26</text>
<text class="r" x="1462.99" y="1683.45" font-size="19" text-anchor="middle" fill="#000" stroke="#000" stroke-width="0.5" stroke-linejoin="round">0.11</text>
<text class="r" x="1462.99" y="1731.84" font-size="19" text-anchor="middle" fill="#000" stroke="#000" stroke-width="0.5" stroke-linejoin="round">0.9</text>
<text class="r" x="1510.45" y="1780.23" font-size="19" text-anchor="middle" fill="#000" stroke="#000" stroke-width="0.5" stroke-linejoin="round">0.89</text>
<text class="r" x="1652.83" y="1780.23" font-size="19" text-anchor="middle" fill="#000" stroke="#000" stroke-width="0.5" stroke-linejoin="round">0.06</text>
<text class="r" x="1178.23" y="1828.62" font-size="19" text-anchor="middle" fill="#000" stroke="#000" stroke-width="0.5" stroke-linejoin="round">0.15</text>
<text class="r" x="1462.99" y="1828.62" font-size="19" text-anchor="middle" fill="#000" stroke="#000" stroke-width="0.5" stroke-linejoin="round">0.08</text>
<text class="r" x="1510.45" y="1828.62" font-size="19" text-anchor="middle" fill="#000" stroke="#000" stroke-width="0.5" stroke-linejoin="round">0.28</text>
<text class="r" x="1652.83" y="1828.62" font-size="19" text-anchor="middle" fill="#000" stroke="#000" stroke-width="0.5" stroke-linejoin="round">0.31</text>
<text class="r" x="1842.67" y="1828.62" font-size="19" text-anchor="middle" fill="#000" stroke="#000" stroke-width="0.5" stroke-linejoin="round">0.08</text>
<text class="r" x="1557.91" y="1877.01" font-size="19" text-anchor="middle" fill="#000" stroke="#000" stroke-width="0.5" stroke-linejoin="round">0.49</text>
<text class="r" x="1605.37" y="1877.01" font-size="19" text-anchor="middle" fill="#000" stroke="#000" stroke-width="0.5" stroke-linejoin="round">0.48</text>
<text class="r" x="1605.37" y="1925.4" font-size="19" text-anchor="middle" fill="#000" stroke="#000" stroke-width="0.5" stroke-linejoin="round">0.16</text>
<text class="r" x="1652.83" y="1925.4" font-size="19" text-anchor="middle" fill="#000" stroke="#000" stroke-width="0.5" stroke-linejoin="round">0.82</text>
<text class="r" x="1320.61" y="1973.79" font-size="19" text-anchor="middle" fill="#000" stroke="#000" stroke-width="0.5" stroke-linejoin="round">0.05</text>
<text class="r" x="1415.53" y="1973.79" font-size="19" text-anchor="middle" fill="#000" stroke="#000" stroke-width="0.5" stroke-linejoin="round">0.19</text>
<text class="r" x="1510.45" y="1973.79" font-size="19" text-anchor="middle" fill="#000" stroke="#000" stroke-width="0.5" stroke-linejoin="round">0.67</text>
<text class="r" x="1700.29" y="2022.18" font-size="19" text-anchor="middle" fill="#000" stroke="#000" stroke-width="0.5" stroke-linejoin="round">0.93</text>
<text class="r" x="1652.83" y="2070.57" font-size="19" text-anchor="middle" fill="#000" stroke="#000" stroke-width="0.5" stroke-linejoin="round">0.09</text>
<text class="r" x="1747.75" y="2070.57" font-size="19" text-anchor="middle" fill="#000" stroke="#000" stroke-width="0.5" stroke-linejoin="round">0.74</text>
<text class="r" x="1795.21" y="2070.57" font-size="19" text-anchor="middle" fill="#000" stroke="#000" stroke-width="0.5" stroke-linejoin="round">0.1</text>
<text class="r" x="1842.67" y="2070.57" font-size="19" text-anchor="middle" fill="#000" stroke="#000" stroke-width="0.5" stroke-linejoin="round">0.07</text>
<text class="r" x="1652.83" y="2118.96" font-size="19" text-anchor="middle" fill="#000" stroke="#000" stroke-width="0.5" stroke-linejoin="round">0.12</text>
<text class="r" x="1842.67" y="2118.96" font-size="19" text-anchor="middle" fill="#000" stroke="#000" stroke-width="0.5" stroke-linejoin="round">0.85</text>
<text class="b" x="1037.3" y="1443" font-size="27.5" text-anchor="end" fill="#000" stroke="#000" stroke-width="0.7" stroke-linejoin="round">Pr-A</text>
<text class="b" x="1086.3" y="1443" font-size="27.5" text-anchor="end" fill="#000" stroke="#000" stroke-width="0.7" stroke-linejoin="round">1</text>
<text class="b" x="1037.3" y="1491.32" font-size="27.5" text-anchor="end" fill="#000" stroke="#000" stroke-width="0.7" stroke-linejoin="round">Pr-W</text>
<text class="b" x="1086.3" y="1491.32" font-size="27.5" text-anchor="end" fill="#000" stroke="#000" stroke-width="0.7" stroke-linejoin="round">2</text>
<text class="b" x="1037.3" y="1539.64" font-size="27.5" text-anchor="end" fill="#000" stroke="#000" stroke-width="0.7" stroke-linejoin="round">Pr-B</text>
<text class="b" x="1086.3" y="1539.64" font-size="27.5" text-anchor="end" fill="#000" stroke="#000" stroke-width="0.7" stroke-linejoin="round">3</text>
<text class="b" x="1037.3" y="1587.96" font-size="27.5" text-anchor="end" fill="#000" stroke="#000" stroke-width="0.7" stroke-linejoin="round">Pr-F</text>
<text class="b" x="1086.3" y="1587.96" font-size="27.5" text-anchor="end" fill="#000" stroke="#000" stroke-width="0.7" stroke-linejoin="round">4</text>
<text class="b" x="1037.3" y="1636.28" font-size="27.5" text-anchor="end" fill="#000" stroke="#000" stroke-width="0.7" stroke-linejoin="round">En-Sd</text>
<text class="b" x="1086.3" y="1636.28" font-size="27.5" text-anchor="end" fill="#000" stroke="#000" stroke-width="0.7" stroke-linejoin="round">5</text>
<text class="b" x="1037.3" y="1684.6" font-size="27.5" text-anchor="end" fill="#000" stroke="#000" stroke-width="0.7" stroke-linejoin="round">En-Sp</text>
<text class="b" x="1086.3" y="1684.6" font-size="27.5" text-anchor="end" fill="#000" stroke="#000" stroke-width="0.7" stroke-linejoin="round">6</text>
<text class="b" x="1037.3" y="1732.92" font-size="27.5" text-anchor="end" fill="#000" stroke="#000" stroke-width="0.7" stroke-linejoin="round">En-W</text>
<text class="b" x="1086.3" y="1732.92" font-size="27.5" text-anchor="end" fill="#000" stroke="#000" stroke-width="0.7" stroke-linejoin="round">7</text>
<text class="b" x="1037.3" y="1781.24" font-size="27.5" text-anchor="end" fill="#000" stroke="#000" stroke-width="0.7" stroke-linejoin="round">En-Pd</text>
<text class="b" x="1086.3" y="1781.24" font-size="27.5" text-anchor="end" fill="#000" stroke="#000" stroke-width="0.7" stroke-linejoin="round">8</text>
<text class="b" x="1037.3" y="1829.56" font-size="27.5" text-anchor="end" fill="#000" stroke="#000" stroke-width="0.7" stroke-linejoin="round">En-Pp</text>
<text class="b" x="1086.3" y="1829.56" font-size="27.5" text-anchor="end" fill="#000" stroke="#000" stroke-width="0.7" stroke-linejoin="round">9</text>
<text class="b" x="1037.3" y="1877.88" font-size="27.5" text-anchor="end" fill="#000" stroke="#000" stroke-width="0.7" stroke-linejoin="round">Tx-S</text>
<text class="b" x="1086.3" y="1877.88" font-size="27.5" text-anchor="end" fill="#000" stroke="#000" stroke-width="0.7" stroke-linejoin="round">10</text>
<text class="b" x="1037.3" y="1926.2" font-size="27.5" text-anchor="end" fill="#000" stroke="#000" stroke-width="0.7" stroke-linejoin="round">Tx-P</text>
<text class="b" x="1086.3" y="1926.2" font-size="27.5" text-anchor="end" fill="#000" stroke="#000" stroke-width="0.7" stroke-linejoin="round">11</text>
<text class="b" x="1037.3" y="1974.52" font-size="27.5" text-anchor="end" fill="#000" stroke="#000" stroke-width="0.7" stroke-linejoin="round">Tx-I</text>
<text class="b" x="1086.3" y="1974.52" font-size="27.5" text-anchor="end" fill="#000" stroke="#000" stroke-width="0.7" stroke-linejoin="round">12</text>
<text class="b" x="1037.3" y="2022.84" font-size="27.5" text-anchor="end" fill="#000" stroke="#000" stroke-width="0.7" stroke-linejoin="round">Hc-P</text>
<text class="b" x="1086.3" y="2022.84" font-size="27.5" text-anchor="end" fill="#000" stroke="#000" stroke-width="0.7" stroke-linejoin="round">13</text>
<text class="b" x="1037.3" y="2071.16" font-size="27.5" text-anchor="end" fill="#000" stroke="#000" stroke-width="0.7" stroke-linejoin="round">Hc-H</text>
<text class="b" x="1086.3" y="2071.16" font-size="27.5" text-anchor="end" fill="#000" stroke="#000" stroke-width="0.7" stroke-linejoin="round">14</text>
<text class="b" x="1037.3" y="2119.48" font-size="27.5" text-anchor="end" fill="#000" stroke="#000" stroke-width="0.7" stroke-linejoin="round">NS</text>
<text class="b" x="1086.3" y="2119.48" font-size="27.5" text-anchor="end" fill="#000" stroke="#000" stroke-width="0.7" stroke-linejoin="round">15</text>
<text class="b" x="1139.2" y="1399.5" font-size="27.5" text-anchor="start" fill="#000" transform="rotate(-90 1139.2 1399.5)" stroke="#000" stroke-width="0.7" stroke-linejoin="round">1</text>
<text class="b" x="1186.66" y="1399.5" font-size="27.5" text-anchor="start" fill="#000" transform="rotate(-90 1186.66 1399.5)" stroke="#000" stroke-width="0.7" stroke-linejoin="round">2</text>
<text class="b" x="1234.12" y="1399.5" font-size="27.5" text-anchor="start" fill="#000" transform="rotate(-90 1234.12 1399.5)" stroke="#000" stroke-width="0.7" stroke-linejoin="round">3</text>
<text class="b" x="1281.58" y="1399.5" font-size="27.5" text-anchor="start" fill="#000" transform="rotate(-90 1281.58 1399.5)" stroke="#000" stroke-width="0.7" stroke-linejoin="round">4</text>
<text class="b" x="1329.04" y="1399.5" font-size="27.5" text-anchor="start" fill="#000" transform="rotate(-90 1329.04 1399.5)" stroke="#000" stroke-width="0.7" stroke-linejoin="round">5</text>
<text class="b" x="1376.5" y="1399.5" font-size="27.5" text-anchor="start" fill="#000" transform="rotate(-90 1376.5 1399.5)" stroke="#000" stroke-width="0.7" stroke-linejoin="round">6</text>
<text class="b" x="1423.96" y="1399.5" font-size="27.5" text-anchor="start" fill="#000" transform="rotate(-90 1423.96 1399.5)" stroke="#000" stroke-width="0.7" stroke-linejoin="round">7</text>
<text class="b" x="1471.42" y="1399.5" font-size="27.5" text-anchor="start" fill="#000" transform="rotate(-90 1471.42 1399.5)" stroke="#000" stroke-width="0.7" stroke-linejoin="round">8</text>
<text class="b" x="1518.88" y="1399.5" font-size="27.5" text-anchor="start" fill="#000" transform="rotate(-90 1518.88 1399.5)" stroke="#000" stroke-width="0.7" stroke-linejoin="round">9</text>
<text class="b" x="1566.34" y="1399.5" font-size="27.5" text-anchor="start" fill="#000" transform="rotate(-90 1566.34 1399.5)" textLength="28.45" lengthAdjust="spacingAndGlyphs" stroke="#000" stroke-width="0.7" stroke-linejoin="round">10</text>
<text class="b" x="1613.8" y="1399.5" font-size="27.5" text-anchor="start" fill="#000" transform="rotate(-90 1613.8 1399.5)" textLength="27.04" lengthAdjust="spacingAndGlyphs" stroke="#000" stroke-width="0.7" stroke-linejoin="round">11</text>
<text class="b" x="1661.26" y="1399.5" font-size="27.5" text-anchor="start" fill="#000" transform="rotate(-90 1661.26 1399.5)" textLength="28.45" lengthAdjust="spacingAndGlyphs" stroke="#000" stroke-width="0.7" stroke-linejoin="round">12</text>
<text class="b" x="1708.72" y="1399.5" font-size="27.5" text-anchor="start" fill="#000" transform="rotate(-90 1708.72 1399.5)" textLength="28.45" lengthAdjust="spacingAndGlyphs" stroke="#000" stroke-width="0.7" stroke-linejoin="round">13</text>
<text class="b" x="1756.18" y="1399.5" font-size="27.5" text-anchor="start" fill="#000" transform="rotate(-90 1756.18 1399.5)" textLength="28.45" lengthAdjust="spacingAndGlyphs" stroke="#000" stroke-width="0.7" stroke-linejoin="round">14</text>
<text class="b" x="1803.64" y="1399.5" font-size="27.5" text-anchor="start" fill="#000" transform="rotate(-90 1803.64 1399.5)" textLength="28.45" lengthAdjust="spacingAndGlyphs" stroke="#000" stroke-width="0.7" stroke-linejoin="round">15</text>
<text class="b" x="1851.1" y="1399.5" font-size="27.5" text-anchor="start" fill="#000" transform="rotate(-90 1851.1 1399.5)" textLength="28.45" lengthAdjust="spacingAndGlyphs" stroke="#000" stroke-width="0.7" stroke-linejoin="round">16</text>
<text class="b" x="1359.6" y="1351.2" font-size="27.5" text-anchor="start" fill="#1c1a1a" textLength="299.7" lengthAdjust="spacingAndGlyphs" stroke="#1c1a1a" stroke-width="0.6" stroke-linejoin="round">6-mark, 16-state model</text>
<text class="b" x="1880.9" y="1698.6" font-size="34" text-anchor="start" fill="#1c1a1a" stroke="#1c1a1a" stroke-width="0.4" stroke-linejoin="round">*</text>
<text class="b" x="1880.9" y="1846.5" font-size="34" text-anchor="start" fill="#1c1a1a" stroke="#1c1a1a" stroke-width="0.4" stroke-linejoin="round">*</text>
<text class="b" x="1880.9" y="1986.9" font-size="34" text-anchor="start" fill="#1c1a1a" textLength="30.4" lengthAdjust="spacingAndGlyphs" stroke="#1c1a1a" stroke-width="0.4" stroke-linejoin="round">**</text>
<text class="b" x="88.5" y="1768" font-size="27.5" text-anchor="middle" fill="#1c1a1a" transform="rotate(-90 88.5 1768)" textLength="296" lengthAdjust="spacingAndGlyphs" stroke="#1c1a1a" stroke-width="0.6" stroke-linejoin="round">8-mark, 15-state model</text>
<g shape-rendering="crispEdges">
<rect x="756.5" y="2179.7" width="9.85" height="73.2" fill="#ffffff"/>
<rect x="765.75" y="2179.7" width="9.85" height="73.2" fill="#fef3e2"/>
<rect x="775" y="2179.7" width="9.85" height="73.2" fill="#fee9c9"/>
<rect x="784.25" y="2179.7" width="9.85" height="73.2" fill="#fddfae"/>
<rect x="793.5" y="2179.7" width="9.85" height="73.2" fill="#fdd596"/>
<rect x="802.75" y="2179.7" width="9.85" height="73.2" fill="#fcc874"/>
<rect x="812" y="2179.7" width="9.85" height="73.2" fill="#fbbc54"/>
<rect x="821.25" y="2179.7" width="9.85" height="73.2" fill="#fab032"/>
<rect x="830.5" y="2179.7" width="9.85" height="73.2" fill="#f9a620"/>
<rect x="839.75" y="2179.7" width="9.25" height="73.2" fill="#f9a31b"/>
</g>
<rect x="756.5" y="2179.7" width="92.5" height="73.2" fill="none" stroke="#000" stroke-width="1.3"/>
<path d="M757 2183.5H765V2250.5H836V2248H849" stroke="#7cc8d8" stroke-width="2.8" fill="none" stroke-linejoin="miter"/>
<path d="M738.1 2252.9H849M738.1 2204H756.5M738.1 2228.5H756.5M756.5 2179.7V2252.9M756.5 2252.9V2271.4M774.5 2252.9V2271.4M793 2252.9V2271.4M811.4 2252.9V2271.4M830 2252.9V2271.4" stroke="#000" stroke-width="2.9" fill="none"/>
<text class="r" x="756" y="2315.5" font-size="29.5" text-anchor="middle" fill="#000" stroke="#000" stroke-width="0.5" stroke-linejoin="round">0</text>
<text class="r" x="811.4" y="2315.5" font-size="29.5" text-anchor="middle" fill="#000" stroke="#000" stroke-width="0.5" stroke-linejoin="round">0.6</text>
<text class="r" x="714.3" y="2253" font-size="29" text-anchor="middle" fill="#000" transform="rotate(-90 714.3 2253)" stroke="#000" stroke-width="0.5" stroke-linejoin="round">0</text>
<text class="r" x="686.9" y="2216" font-size="19.3" text-anchor="middle" fill="#000" transform="rotate(-90 686.9 2216)" stroke="#000" stroke-width="0.4" stroke-linejoin="round">Count</text>
<text class="b" x="799.6" y="2354" font-size="27.5" text-anchor="middle" fill="#1c1a1a" stroke="#1c1a1a" stroke-width="0.6" stroke-linejoin="round">Overlap</text>
<g shape-rendering="crispEdges">
<rect x="1682.7" y="2199.7" width="16.22" height="73" fill="#ffffff"/>
<rect x="1698.32" y="2199.7" width="16.22" height="73" fill="#fef3e2"/>
<rect x="1713.94" y="2199.7" width="16.22" height="73" fill="#fee9c9"/>
<rect x="1729.56" y="2199.7" width="16.22" height="73" fill="#fddfae"/>
<rect x="1745.18" y="2199.7" width="16.22" height="73" fill="#fdd596"/>
<rect x="1760.8" y="2199.7" width="16.22" height="73" fill="#fcc874"/>
<rect x="1776.42" y="2199.7" width="16.22" height="73" fill="#fbbc54"/>
<rect x="1792.04" y="2199.7" width="16.22" height="73" fill="#fab032"/>
<rect x="1807.66" y="2199.7" width="16.22" height="73" fill="#f9a620"/>
<rect x="1823.28" y="2199.7" width="15.62" height="73" fill="#f9a31b"/>
</g>
<rect x="1682.7" y="2199.7" width="156.2" height="73" fill="none" stroke="#000" stroke-width="1.3"/>
<path d="M1683 2204.2H1699V2270.7H1822V2269.5H1838.9" stroke="#7cc8d8" stroke-width="2.8" fill="none" stroke-linejoin="miter"/>
<path d="M1664.4 2272.7H1838.9M1664.4 2208.1H1682.7M1664.4 2224.3H1682.7M1664.4 2241H1682.7M1664.4 2256.9H1682.7M1682.7 2199.7V2272.7M1682.7 2272.7V2291.2M1716.2 2272.7V2291.2M1749.2 2272.7V2291.2M1782.1 2272.7V2291.2M1815.5 2272.7V2291.2" stroke="#000" stroke-width="2.9" fill="none"/>
<text class="r" x="1682.7" y="2335.4" font-size="29.5" text-anchor="middle" fill="#000" stroke="#000" stroke-width="0.5" stroke-linejoin="round">0</text>
<text class="r" x="1748.7" y="2335.4" font-size="29.5" text-anchor="middle" fill="#000" stroke="#000" stroke-width="0.5" stroke-linejoin="round">0.4</text>
<text class="r" x="1815" y="2335.4" font-size="29.5" text-anchor="middle" fill="#000" stroke="#000" stroke-width="0.5" stroke-linejoin="round">0.8</text>
<text class="r" x="1640.5" y="2273" font-size="29" text-anchor="middle" fill="#000" transform="rotate(-90 1640.5 2273)" stroke="#000" stroke-width="0.5" stroke-linejoin="round">0</text>
<text class="r" x="1640.5" y="2208.8" font-size="29" text-anchor="middle" fill="#000" transform="rotate(-90 1640.5 2208.8)" stroke="#000" stroke-width="0.5" stroke-linejoin="round">200</text>
<text class="r" x="1614.2" y="2236.4" font-size="19.3" text-anchor="middle" fill="#000" transform="rotate(-90 1614.2 2236.4)" stroke="#000" stroke-width="0.4" stroke-linejoin="round">Count</text>
<text class="b" x="1757" y="2374.6" font-size="31" text-anchor="middle" fill="#1c1a1a" stroke="#1c1a1a" stroke-width="0.6" stroke-linejoin="round">Overlap</text>
<text class="b" x="138.5" y="2454.6" font-size="31.6" text-anchor="start" fill="#1c1a1a" textLength="1566" lengthAdjust="spacingAndGlyphs" stroke="#1c1a1a" stroke-width="0.8" stroke-linejoin="round">* TSS-proximal enhancer states are not well distinguished from other enhancer states in 6-mark models.</text>
<text class="b" x="138.5" y="2513.4" font-size="31.6" text-anchor="start" fill="#1c1a1a" textLength="1715.5" lengthAdjust="spacingAndGlyphs" stroke="#1c1a1a" stroke-width="0.8" stroke-linejoin="round">** Transcription initiation state (#12) is absent from 6-mark models; regions mostly classified with enhancer states</text>
</svg></body></html>
